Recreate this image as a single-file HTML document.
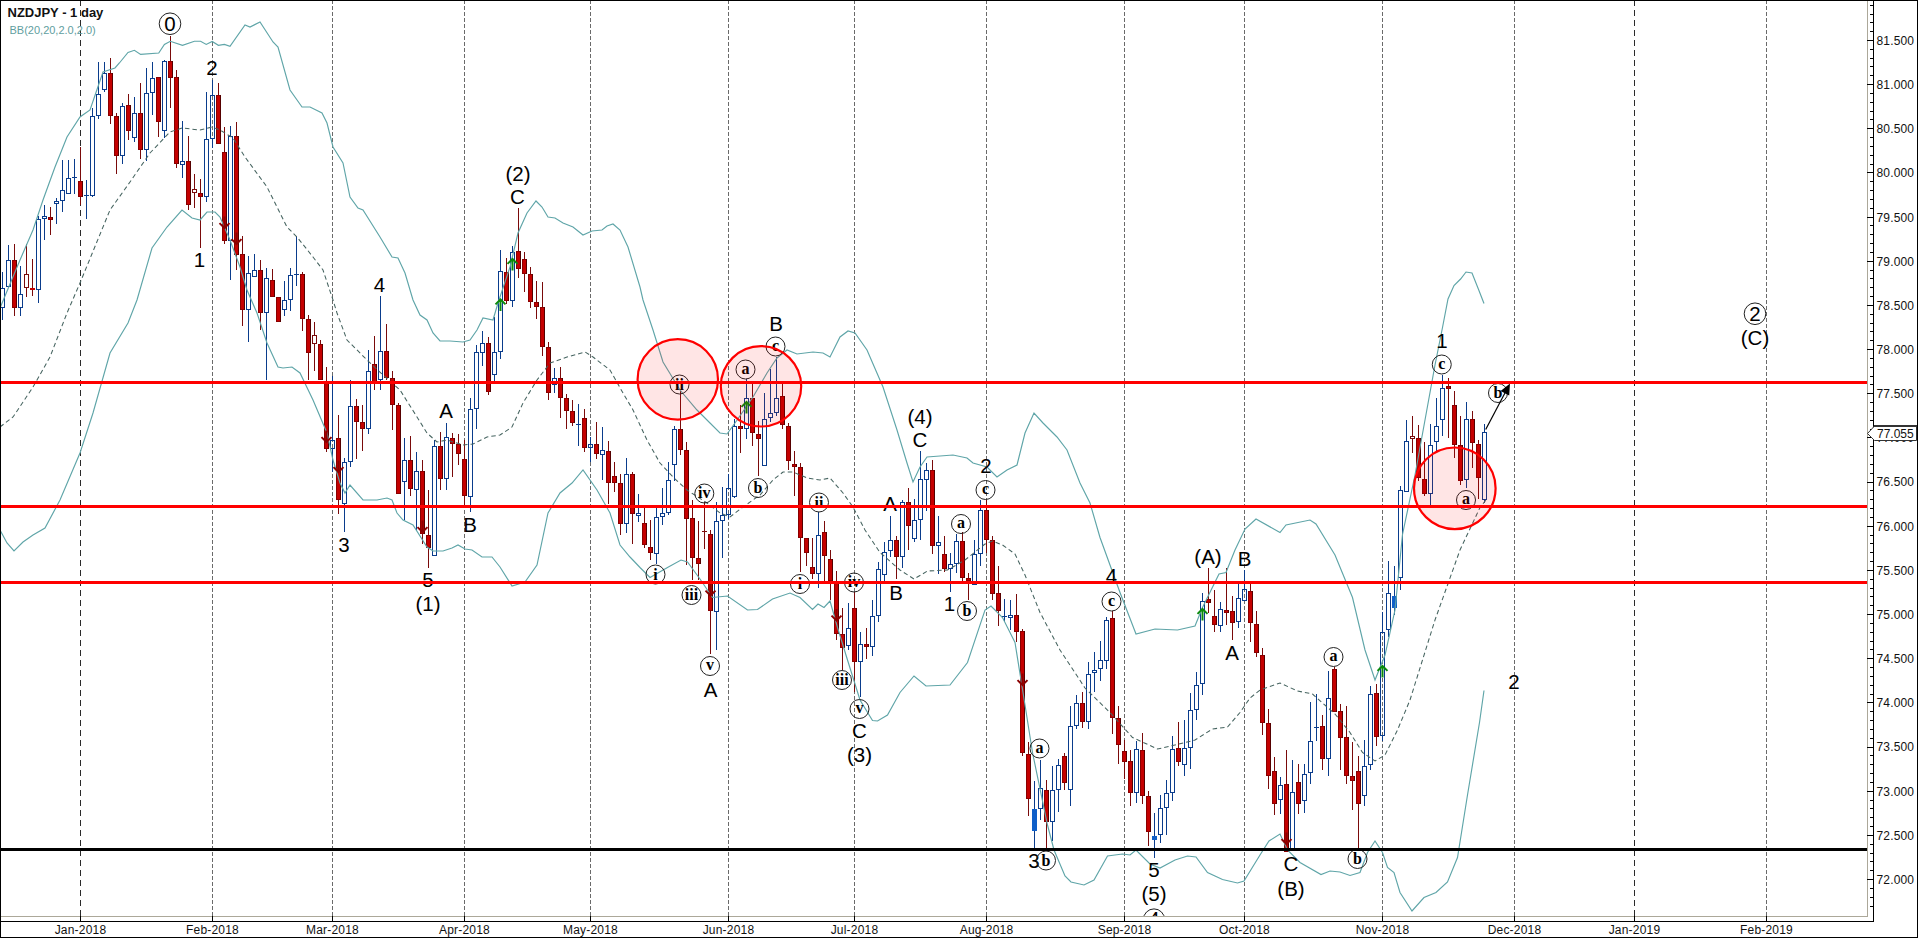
<!DOCTYPE html>
<html><head><meta charset="utf-8"><title>NZDJPY - 1 day</title>
<style>html,body{margin:0;padding:0;background:#fff;overflow:hidden}svg{display:block}</style></head>
<body><svg width="1918" height="938" viewBox="0 0 1918 938">
<rect width="1918" height="938" fill="#fff"/>
<g shape-rendering="crispEdges">
<line x1="80.5" y1="0" x2="80.5" y2="916" stroke="#2a2a2a" stroke-width="1" stroke-dasharray="6 4"/>
<line x1="212.5" y1="0" x2="212.5" y2="916" stroke="#6a6a6a" stroke-width="1" stroke-dasharray="4 2"/>
<line x1="332.5" y1="0" x2="332.5" y2="916" stroke="#6a6a6a" stroke-width="1" stroke-dasharray="4 2"/>
<line x1="464.5" y1="0" x2="464.5" y2="916" stroke="#6a6a6a" stroke-width="1" stroke-dasharray="4 2"/>
<line x1="590.5" y1="0" x2="590.5" y2="916" stroke="#6a6a6a" stroke-width="1" stroke-dasharray="4 2"/>
<line x1="728.5" y1="0" x2="728.5" y2="916" stroke="#6a6a6a" stroke-width="1" stroke-dasharray="4 2"/>
<line x1="854.5" y1="0" x2="854.5" y2="916" stroke="#6a6a6a" stroke-width="1" stroke-dasharray="4 2"/>
<line x1="986.5" y1="0" x2="986.5" y2="916" stroke="#6a6a6a" stroke-width="1" stroke-dasharray="4 2"/>
<line x1="1124.5" y1="0" x2="1124.5" y2="916" stroke="#6a6a6a" stroke-width="1" stroke-dasharray="4 2"/>
<line x1="1244.5" y1="0" x2="1244.5" y2="916" stroke="#6a6a6a" stroke-width="1" stroke-dasharray="4 2"/>
<line x1="1382.5" y1="0" x2="1382.5" y2="916" stroke="#6a6a6a" stroke-width="1" stroke-dasharray="4 2"/>
<line x1="1514.5" y1="0" x2="1514.5" y2="916" stroke="#6a6a6a" stroke-width="1" stroke-dasharray="4 2"/>
<line x1="1634.5" y1="0" x2="1634.5" y2="916" stroke="#2a2a2a" stroke-width="1" stroke-dasharray="6 4"/>
<line x1="1766.5" y1="0" x2="1766.5" y2="916" stroke="#6a6a6a" stroke-width="1" stroke-dasharray="4 2"/>
</g>
<g shape-rendering="crispEdges">
<rect x="2" y="272" width="1" height="16" fill="#0a3c8c"/>
<rect x="2" y="308" width="1" height="12" fill="#0a3c8c"/>
<path d="M0,288h5v20h-5z M1,289v18h3v-18z" fill-rule="evenodd" fill="#0a3c8c"/>
<rect x="8" y="245" width="1" height="15" fill="#0a3c8c"/>
<path d="M6,260h5v27h-5z M7,261v25h3v-25z" fill-rule="evenodd" fill="#0a3c8c"/>
<rect x="14" y="244" width="1" height="72" fill="#7a0a0a"/>
<rect x="12" y="260" width="5" height="48" fill="#8a0000"/><rect x="13" y="261" width="3" height="46" fill="#c40000"/><rect x="16" y="260" width="1" height="48" fill="#560000"/>
<rect x="20" y="266" width="1" height="28" fill="#0a3c8c"/>
<rect x="20" y="308" width="1" height="8" fill="#0a3c8c"/>
<path d="M18,294h5v14h-5z M19,295v12h3v-12z" fill-rule="evenodd" fill="#0a3c8c"/>
<rect x="26" y="244" width="1" height="30" fill="#7a0a0a"/>
<rect x="26" y="288" width="1" height="9" fill="#7a0a0a"/>
<path d="M24,274h5v14h-5z M25,275v12h3v-12z" fill-rule="evenodd" fill="#7a0a0a"/>
<rect x="32" y="259" width="1" height="37" fill="#7a0a0a"/>
<rect x="30" y="288" width="5" height="2" fill="#c40000"/>
<rect x="38" y="216" width="1" height="3" fill="#0a3c8c"/>
<rect x="38" y="290" width="1" height="13" fill="#0a3c8c"/>
<path d="M36,219h5v71h-5z M37,220v69h3v-69z" fill-rule="evenodd" fill="#0a3c8c"/>
<rect x="44" y="205" width="1" height="11" fill="#0a3c8c"/>
<rect x="44" y="219" width="1" height="21" fill="#0a3c8c"/>
<path d="M42,216h5v3h-5z M43,217v1h3v-1z" fill-rule="evenodd" fill="#0a3c8c"/>
<rect x="50" y="207" width="1" height="28" fill="#7a0a0a"/>
<rect x="48" y="217" width="5" height="3" fill="#8a0000"/><rect x="49" y="218" width="3" height="1" fill="#c40000"/><rect x="52" y="217" width="1" height="3" fill="#560000"/>
<rect x="56" y="198" width="1" height="3" fill="#0a3c8c"/>
<rect x="56" y="204" width="1" height="20" fill="#0a3c8c"/>
<path d="M54,201h5v3h-5z M55,202v1h3v-1z" fill-rule="evenodd" fill="#0a3c8c"/>
<rect x="62" y="160" width="1" height="30" fill="#0a3c8c"/>
<rect x="62" y="201" width="1" height="11" fill="#0a3c8c"/>
<path d="M60,190h5v11h-5z M61,191v9h3v-9z" fill-rule="evenodd" fill="#0a3c8c"/>
<rect x="68" y="160" width="1" height="18" fill="#0a3c8c"/>
<path d="M66,178h5v16h-5z M67,179v14h3v-14z" fill-rule="evenodd" fill="#0a3c8c"/>
<rect x="74" y="159" width="1" height="35" fill="#0a3c8c"/>
<rect x="72" y="177" width="5" height="1" fill="#0a3c8c"/>
<rect x="80" y="147" width="1" height="58" fill="#7a0a0a"/>
<rect x="78" y="181" width="5" height="16" fill="#8a0000"/><rect x="79" y="182" width="3" height="14" fill="#c40000"/><rect x="82" y="181" width="1" height="16" fill="#560000"/>
<rect x="86" y="180" width="1" height="39" fill="#0a3c8c"/>
<rect x="84" y="195" width="5" height="1" fill="#0a3c8c"/>
<rect x="92" y="108" width="1" height="8" fill="#0a3c8c"/>
<rect x="92" y="196" width="1" height="1" fill="#0a3c8c"/>
<path d="M90,116h5v80h-5z M91,117v78h3v-78z" fill-rule="evenodd" fill="#0a3c8c"/>
<rect x="98" y="62" width="1" height="32" fill="#0a3c8c"/>
<rect x="98" y="116" width="1" height="3" fill="#0a3c8c"/>
<path d="M96,94h5v22h-5z M97,95v20h3v-20z" fill-rule="evenodd" fill="#0a3c8c"/>
<rect x="104" y="62" width="1" height="11" fill="#0a3c8c"/>
<rect x="104" y="90" width="1" height="2" fill="#0a3c8c"/>
<path d="M102,73h5v17h-5z M103,74v15h3v-15z" fill-rule="evenodd" fill="#0a3c8c"/>
<rect x="110" y="58" width="1" height="66" fill="#7a0a0a"/>
<rect x="108" y="73" width="5" height="43" fill="#8a0000"/><rect x="109" y="74" width="3" height="41" fill="#c40000"/><rect x="112" y="73" width="1" height="43" fill="#560000"/>
<rect x="116" y="113" width="1" height="61" fill="#7a0a0a"/>
<rect x="114" y="116" width="5" height="40" fill="#8a0000"/><rect x="115" y="117" width="3" height="38" fill="#c40000"/><rect x="118" y="116" width="1" height="40" fill="#560000"/>
<rect x="122" y="103" width="1" height="3" fill="#0a3c8c"/>
<rect x="122" y="156" width="1" height="8" fill="#0a3c8c"/>
<path d="M120,106h5v50h-5z M121,107v48h3v-48z" fill-rule="evenodd" fill="#0a3c8c"/>
<rect x="128" y="94" width="1" height="46" fill="#7a0a0a"/>
<rect x="126" y="105" width="5" height="26" fill="#8a0000"/><rect x="127" y="106" width="3" height="24" fill="#c40000"/><rect x="130" y="105" width="1" height="26" fill="#560000"/>
<rect x="134" y="97" width="1" height="16" fill="#0a3c8c"/>
<rect x="134" y="138" width="1" height="4" fill="#0a3c8c"/>
<path d="M132,113h5v25h-5z M133,114v23h3v-23z" fill-rule="evenodd" fill="#0a3c8c"/>
<rect x="140" y="83" width="1" height="76" fill="#7a0a0a"/>
<rect x="138" y="113" width="5" height="37" fill="#8a0000"/><rect x="139" y="114" width="3" height="35" fill="#c40000"/><rect x="142" y="113" width="1" height="37" fill="#560000"/>
<rect x="146" y="68" width="1" height="25" fill="#0a3c8c"/>
<rect x="146" y="150" width="1" height="11" fill="#0a3c8c"/>
<path d="M144,93h5v57h-5z M145,94v55h3v-55z" fill-rule="evenodd" fill="#0a3c8c"/>
<rect x="152" y="62" width="1" height="16" fill="#0a3c8c"/>
<rect x="152" y="93" width="1" height="22" fill="#0a3c8c"/>
<path d="M150,78h5v15h-5z M151,79v13h3v-13z" fill-rule="evenodd" fill="#0a3c8c"/>
<rect x="158" y="77" width="1" height="60" fill="#7a0a0a"/>
<rect x="156" y="77" width="5" height="45" fill="#8a0000"/><rect x="157" y="78" width="3" height="43" fill="#c40000"/><rect x="160" y="77" width="1" height="45" fill="#560000"/>
<rect x="164" y="60" width="1" height="1" fill="#0a3c8c"/>
<rect x="164" y="131" width="1" height="7" fill="#0a3c8c"/>
<path d="M162,61h5v70h-5z M163,62v68h3v-68z" fill-rule="evenodd" fill="#0a3c8c"/>
<rect x="170" y="36" width="1" height="72" fill="#7a0a0a"/>
<rect x="168" y="61" width="5" height="17" fill="#8a0000"/><rect x="169" y="62" width="3" height="15" fill="#c40000"/><rect x="172" y="61" width="1" height="17" fill="#560000"/>
<rect x="176" y="70" width="1" height="98" fill="#7a0a0a"/>
<rect x="174" y="77" width="5" height="87" fill="#8a0000"/><rect x="175" y="78" width="3" height="85" fill="#c40000"/><rect x="178" y="77" width="1" height="87" fill="#560000"/>
<rect x="182" y="121" width="1" height="40" fill="#0a3c8c"/>
<rect x="182" y="165" width="1" height="13" fill="#0a3c8c"/>
<path d="M180,161h5v4h-5z M181,162v2h3v-2z" fill-rule="evenodd" fill="#0a3c8c"/>
<rect x="188" y="136" width="1" height="74" fill="#7a0a0a"/>
<rect x="186" y="161" width="5" height="44" fill="#8a0000"/><rect x="187" y="162" width="3" height="42" fill="#c40000"/><rect x="190" y="161" width="1" height="44" fill="#560000"/>
<rect x="194" y="174" width="1" height="15" fill="#7a0a0a"/>
<rect x="194" y="193" width="1" height="15" fill="#7a0a0a"/>
<path d="M192,189h5v4h-5z M193,190v2h3v-2z" fill-rule="evenodd" fill="#7a0a0a"/>
<rect x="200" y="179" width="1" height="69" fill="#7a0a0a"/>
<rect x="198" y="193" width="5" height="4" fill="#8a0000"/><rect x="199" y="194" width="3" height="2" fill="#c40000"/><rect x="202" y="193" width="1" height="4" fill="#560000"/>
<rect x="206" y="92" width="1" height="47" fill="#0a3c8c"/>
<rect x="206" y="197" width="1" height="5" fill="#0a3c8c"/>
<path d="M204,139h5v58h-5z M205,140v56h3v-56z" fill-rule="evenodd" fill="#0a3c8c"/>
<rect x="212" y="80" width="1" height="15" fill="#0a3c8c"/>
<rect x="212" y="139" width="1" height="9" fill="#0a3c8c"/>
<path d="M210,95h5v44h-5z M211,96v42h3v-42z" fill-rule="evenodd" fill="#0a3c8c"/>
<rect x="218" y="83" width="1" height="61" fill="#7a0a0a"/>
<rect x="216" y="95" width="5" height="49" fill="#8a0000"/><rect x="217" y="96" width="3" height="47" fill="#c40000"/><rect x="220" y="95" width="1" height="49" fill="#560000"/>
<rect x="224" y="127" width="1" height="117" fill="#7a0a0a"/>
<rect x="222" y="152" width="5" height="89" fill="#8a0000"/><rect x="223" y="153" width="3" height="87" fill="#c40000"/><rect x="226" y="152" width="1" height="89" fill="#560000"/>
<rect x="230" y="126" width="1" height="10" fill="#0a3c8c"/>
<rect x="230" y="241" width="1" height="39" fill="#0a3c8c"/>
<path d="M228,136h5v105h-5z M229,137v103h3v-103z" fill-rule="evenodd" fill="#0a3c8c"/>
<rect x="236" y="122" width="1" height="148" fill="#7a0a0a"/>
<rect x="234" y="136" width="5" height="119" fill="#8a0000"/><rect x="235" y="137" width="3" height="117" fill="#c40000"/><rect x="238" y="136" width="1" height="119" fill="#560000"/>
<rect x="242" y="236" width="1" height="90" fill="#7a0a0a"/>
<rect x="240" y="254" width="5" height="56" fill="#8a0000"/><rect x="241" y="255" width="3" height="54" fill="#c40000"/><rect x="244" y="254" width="1" height="56" fill="#560000"/>
<rect x="248" y="256" width="1" height="17" fill="#0a3c8c"/>
<rect x="248" y="310" width="1" height="32" fill="#0a3c8c"/>
<path d="M246,273h5v37h-5z M247,274v35h3v-35z" fill-rule="evenodd" fill="#0a3c8c"/>
<rect x="254" y="254" width="1" height="16" fill="#0a3c8c"/>
<path d="M252,270h5v7h-5z M253,271v5h3v-5z" fill-rule="evenodd" fill="#0a3c8c"/>
<rect x="260" y="260" width="1" height="70" fill="#7a0a0a"/>
<rect x="258" y="270" width="5" height="43" fill="#8a0000"/><rect x="259" y="271" width="3" height="41" fill="#c40000"/><rect x="262" y="270" width="1" height="43" fill="#560000"/>
<rect x="266" y="268" width="1" height="10" fill="#0a3c8c"/>
<rect x="266" y="313" width="1" height="67" fill="#0a3c8c"/>
<path d="M264,278h5v35h-5z M265,279v33h3v-33z" fill-rule="evenodd" fill="#0a3c8c"/>
<rect x="272" y="269" width="1" height="28" fill="#7a0a0a"/>
<rect x="270" y="280" width="5" height="17" fill="#8a0000"/><rect x="271" y="281" width="3" height="15" fill="#c40000"/><rect x="274" y="280" width="1" height="17" fill="#560000"/>
<rect x="278" y="297" width="1" height="25" fill="#7a0a0a"/>
<rect x="276" y="297" width="5" height="25" fill="#8a0000"/><rect x="277" y="298" width="3" height="23" fill="#c40000"/><rect x="280" y="297" width="1" height="25" fill="#560000"/>
<rect x="284" y="281" width="1" height="19" fill="#0a3c8c"/>
<rect x="284" y="310" width="1" height="6" fill="#0a3c8c"/>
<path d="M282,300h5v10h-5z M283,301v8h3v-8z" fill-rule="evenodd" fill="#0a3c8c"/>
<rect x="290" y="268" width="1" height="7" fill="#0a3c8c"/>
<rect x="290" y="300" width="1" height="11" fill="#0a3c8c"/>
<path d="M288,275h5v25h-5z M289,276v23h3v-23z" fill-rule="evenodd" fill="#0a3c8c"/>
<rect x="296" y="236" width="1" height="50" fill="#0a3c8c"/>
<rect x="294" y="274" width="5" height="1" fill="#0a3c8c"/>
<rect x="302" y="272" width="1" height="59" fill="#7a0a0a"/>
<rect x="300" y="274" width="5" height="45" fill="#8a0000"/><rect x="301" y="275" width="3" height="43" fill="#c40000"/><rect x="304" y="274" width="1" height="45" fill="#560000"/>
<rect x="308" y="315" width="1" height="65" fill="#7a0a0a"/>
<rect x="306" y="319" width="5" height="34" fill="#8a0000"/><rect x="307" y="320" width="3" height="32" fill="#c40000"/><rect x="310" y="319" width="1" height="34" fill="#560000"/>
<rect x="314" y="322" width="1" height="13" fill="#7a0a0a"/>
<rect x="314" y="344" width="1" height="27" fill="#7a0a0a"/>
<path d="M312,335h5v9h-5z M313,336v7h3v-7z" fill-rule="evenodd" fill="#7a0a0a"/>
<rect x="320" y="340" width="1" height="40" fill="#7a0a0a"/>
<rect x="318" y="344" width="5" height="36" fill="#8a0000"/><rect x="319" y="345" width="3" height="34" fill="#c40000"/><rect x="322" y="344" width="1" height="36" fill="#560000"/>
<rect x="326" y="367" width="1" height="85" fill="#7a0a0a"/>
<rect x="324" y="382" width="5" height="67" fill="#8a0000"/><rect x="325" y="383" width="3" height="65" fill="#c40000"/><rect x="328" y="382" width="1" height="67" fill="#560000"/>
<rect x="332" y="376" width="1" height="64" fill="#0a3c8c"/>
<rect x="332" y="449" width="1" height="23" fill="#0a3c8c"/>
<path d="M330,440h5v9h-5z M331,441v7h3v-7z" fill-rule="evenodd" fill="#0a3c8c"/>
<rect x="338" y="415" width="1" height="99" fill="#7a0a0a"/>
<rect x="336" y="438" width="5" height="62" fill="#8a0000"/><rect x="337" y="439" width="3" height="60" fill="#c40000"/><rect x="340" y="438" width="1" height="62" fill="#560000"/>
<rect x="344" y="458" width="1" height="4" fill="#0a3c8c"/>
<rect x="344" y="504" width="1" height="28" fill="#0a3c8c"/>
<path d="M342,462h5v42h-5z M343,463v40h3v-40z" fill-rule="evenodd" fill="#0a3c8c"/>
<rect x="350" y="380" width="1" height="26" fill="#0a3c8c"/>
<rect x="350" y="462" width="1" height="5" fill="#0a3c8c"/>
<path d="M348,406h5v56h-5z M349,407v54h3v-54z" fill-rule="evenodd" fill="#0a3c8c"/>
<rect x="356" y="399" width="1" height="60" fill="#7a0a0a"/>
<rect x="354" y="406" width="5" height="16" fill="#8a0000"/><rect x="355" y="407" width="3" height="14" fill="#c40000"/><rect x="358" y="406" width="1" height="16" fill="#560000"/>
<rect x="362" y="405" width="1" height="46" fill="#7a0a0a"/>
<rect x="360" y="422" width="5" height="7" fill="#8a0000"/><rect x="361" y="423" width="3" height="5" fill="#c40000"/><rect x="364" y="422" width="1" height="7" fill="#560000"/>
<rect x="368" y="350" width="1" height="21" fill="#0a3c8c"/>
<rect x="368" y="429" width="1" height="5" fill="#0a3c8c"/>
<path d="M366,371h5v58h-5z M367,372v56h3v-56z" fill-rule="evenodd" fill="#0a3c8c"/>
<rect x="374" y="336" width="1" height="54" fill="#7a0a0a"/>
<rect x="372" y="364" width="5" height="18" fill="#8a0000"/><rect x="373" y="365" width="3" height="16" fill="#c40000"/><rect x="376" y="364" width="1" height="18" fill="#560000"/>
<rect x="380" y="296" width="1" height="55" fill="#0a3c8c"/>
<rect x="380" y="380" width="1" height="10" fill="#0a3c8c"/>
<path d="M378,351h5v29h-5z M379,352v27h3v-27z" fill-rule="evenodd" fill="#0a3c8c"/>
<rect x="386" y="324" width="1" height="56" fill="#7a0a0a"/>
<rect x="384" y="351" width="5" height="27" fill="#8a0000"/><rect x="385" y="352" width="3" height="25" fill="#c40000"/><rect x="388" y="351" width="1" height="27" fill="#560000"/>
<rect x="392" y="371" width="1" height="59" fill="#7a0a0a"/>
<rect x="390" y="378" width="5" height="27" fill="#8a0000"/><rect x="391" y="379" width="3" height="25" fill="#c40000"/><rect x="394" y="378" width="1" height="27" fill="#560000"/>
<rect x="398" y="403" width="1" height="91" fill="#7a0a0a"/>
<rect x="396" y="405" width="5" height="89" fill="#8a0000"/><rect x="397" y="406" width="3" height="87" fill="#c40000"/><rect x="400" y="405" width="1" height="89" fill="#560000"/>
<rect x="404" y="438" width="1" height="22" fill="#0a3c8c"/>
<rect x="404" y="482" width="1" height="38" fill="#0a3c8c"/>
<path d="M402,460h5v22h-5z M403,461v20h3v-20z" fill-rule="evenodd" fill="#0a3c8c"/>
<rect x="410" y="436" width="1" height="60" fill="#7a0a0a"/>
<rect x="408" y="460" width="5" height="29" fill="#8a0000"/><rect x="409" y="461" width="3" height="27" fill="#c40000"/><rect x="412" y="460" width="1" height="29" fill="#560000"/>
<rect x="416" y="452" width="1" height="19" fill="#0a3c8c"/>
<rect x="416" y="490" width="1" height="40" fill="#0a3c8c"/>
<path d="M414,471h5v19h-5z M415,472v17h3v-17z" fill-rule="evenodd" fill="#0a3c8c"/>
<rect x="422" y="460" width="1" height="84" fill="#7a0a0a"/>
<rect x="420" y="471" width="5" height="63" fill="#8a0000"/><rect x="421" y="472" width="3" height="61" fill="#c40000"/><rect x="424" y="471" width="1" height="63" fill="#560000"/>
<rect x="428" y="490" width="1" height="78" fill="#7a0a0a"/>
<rect x="426" y="535" width="5" height="13" fill="#8a0000"/><rect x="427" y="536" width="3" height="11" fill="#c40000"/><rect x="430" y="535" width="1" height="13" fill="#560000"/>
<rect x="434" y="440" width="1" height="6" fill="#0a3c8c"/>
<path d="M432,446h5v110h-5z M433,447v108h3v-108z" fill-rule="evenodd" fill="#0a3c8c"/>
<rect x="440" y="432" width="1" height="58" fill="#7a0a0a"/>
<rect x="438" y="446" width="5" height="33" fill="#8a0000"/><rect x="439" y="447" width="3" height="31" fill="#c40000"/><rect x="442" y="446" width="1" height="33" fill="#560000"/>
<rect x="446" y="423" width="1" height="14" fill="#0a3c8c"/>
<rect x="446" y="479" width="1" height="11" fill="#0a3c8c"/>
<path d="M444,437h5v42h-5z M445,438v40h3v-40z" fill-rule="evenodd" fill="#0a3c8c"/>
<rect x="452" y="433" width="1" height="44" fill="#7a0a0a"/>
<rect x="450" y="438" width="5" height="6" fill="#8a0000"/><rect x="451" y="439" width="3" height="4" fill="#c40000"/><rect x="454" y="438" width="1" height="6" fill="#560000"/>
<rect x="458" y="434" width="1" height="31" fill="#7a0a0a"/>
<rect x="456" y="444" width="5" height="10" fill="#8a0000"/><rect x="457" y="445" width="3" height="8" fill="#c40000"/><rect x="460" y="444" width="1" height="10" fill="#560000"/>
<rect x="464" y="440" width="1" height="65" fill="#7a0a0a"/>
<rect x="462" y="459" width="5" height="37" fill="#8a0000"/><rect x="463" y="460" width="3" height="35" fill="#c40000"/><rect x="466" y="459" width="1" height="37" fill="#560000"/>
<rect x="470" y="398" width="1" height="11" fill="#0a3c8c"/>
<rect x="470" y="497" width="1" height="15" fill="#0a3c8c"/>
<path d="M468,409h5v88h-5z M469,410v86h3v-86z" fill-rule="evenodd" fill="#0a3c8c"/>
<rect x="476" y="345" width="1" height="7" fill="#0a3c8c"/>
<rect x="476" y="409" width="1" height="20" fill="#0a3c8c"/>
<path d="M474,352h5v57h-5z M475,353v55h3v-55z" fill-rule="evenodd" fill="#0a3c8c"/>
<rect x="482" y="331" width="1" height="12" fill="#0a3c8c"/>
<rect x="482" y="353" width="1" height="13" fill="#0a3c8c"/>
<path d="M480,343h5v10h-5z M481,344v8h3v-8z" fill-rule="evenodd" fill="#0a3c8c"/>
<rect x="488" y="337" width="1" height="58" fill="#7a0a0a"/>
<rect x="486" y="343" width="5" height="49" fill="#8a0000"/><rect x="487" y="344" width="3" height="47" fill="#c40000"/><rect x="490" y="343" width="1" height="49" fill="#560000"/>
<rect x="494" y="317" width="1" height="35" fill="#0a3c8c"/>
<rect x="494" y="375" width="1" height="6" fill="#0a3c8c"/>
<path d="M492,352h5v23h-5z M493,353v21h3v-21z" fill-rule="evenodd" fill="#0a3c8c"/>
<rect x="500" y="250" width="1" height="21" fill="#0a3c8c"/>
<rect x="500" y="352" width="1" height="7" fill="#0a3c8c"/>
<path d="M498,271h5v81h-5z M499,272v79h3v-79z" fill-rule="evenodd" fill="#0a3c8c"/>
<rect x="506" y="258" width="1" height="46" fill="#7a0a0a"/>
<rect x="504" y="272" width="5" height="29" fill="#8a0000"/><rect x="505" y="273" width="3" height="27" fill="#c40000"/><rect x="508" y="272" width="1" height="29" fill="#560000"/>
<rect x="512" y="246" width="1" height="6" fill="#0a3c8c"/>
<rect x="512" y="301" width="1" height="6" fill="#0a3c8c"/>
<path d="M510,252h5v49h-5z M511,253v47h3v-47z" fill-rule="evenodd" fill="#0a3c8c"/>
<rect x="518" y="208" width="1" height="70" fill="#7a0a0a"/>
<rect x="516" y="251" width="5" height="18" fill="#8a0000"/><rect x="517" y="252" width="3" height="16" fill="#c40000"/><rect x="520" y="251" width="1" height="18" fill="#560000"/>
<rect x="524" y="252" width="1" height="40" fill="#7a0a0a"/>
<rect x="522" y="259" width="5" height="15" fill="#8a0000"/><rect x="523" y="260" width="3" height="13" fill="#c40000"/><rect x="526" y="259" width="1" height="15" fill="#560000"/>
<rect x="530" y="267" width="1" height="41" fill="#7a0a0a"/>
<rect x="528" y="274" width="5" height="28" fill="#8a0000"/><rect x="529" y="275" width="3" height="26" fill="#c40000"/><rect x="532" y="274" width="1" height="28" fill="#560000"/>
<rect x="536" y="281" width="1" height="38" fill="#7a0a0a"/>
<rect x="534" y="302" width="5" height="5" fill="#8a0000"/><rect x="535" y="303" width="3" height="3" fill="#c40000"/><rect x="538" y="302" width="1" height="5" fill="#560000"/>
<rect x="542" y="282" width="1" height="74" fill="#7a0a0a"/>
<rect x="540" y="307" width="5" height="40" fill="#8a0000"/><rect x="541" y="308" width="3" height="38" fill="#c40000"/><rect x="544" y="307" width="1" height="40" fill="#560000"/>
<rect x="548" y="342" width="1" height="58" fill="#7a0a0a"/>
<rect x="546" y="347" width="5" height="46" fill="#8a0000"/><rect x="547" y="348" width="3" height="44" fill="#c40000"/><rect x="550" y="347" width="1" height="46" fill="#560000"/>
<rect x="554" y="368" width="1" height="10" fill="#0a3c8c"/>
<rect x="554" y="385" width="1" height="8" fill="#0a3c8c"/>
<path d="M552,378h5v7h-5z M553,379v5h3v-5z" fill-rule="evenodd" fill="#0a3c8c"/>
<rect x="560" y="367" width="1" height="51" fill="#7a0a0a"/>
<rect x="558" y="378" width="5" height="20" fill="#8a0000"/><rect x="559" y="379" width="3" height="18" fill="#c40000"/><rect x="562" y="378" width="1" height="20" fill="#560000"/>
<rect x="566" y="394" width="1" height="35" fill="#7a0a0a"/>
<rect x="564" y="398" width="5" height="13" fill="#8a0000"/><rect x="565" y="399" width="3" height="11" fill="#c40000"/><rect x="568" y="398" width="1" height="13" fill="#560000"/>
<rect x="572" y="400" width="1" height="26" fill="#7a0a0a"/>
<rect x="570" y="411" width="5" height="12" fill="#8a0000"/><rect x="571" y="412" width="3" height="10" fill="#c40000"/><rect x="574" y="411" width="1" height="12" fill="#560000"/>
<rect x="578" y="404" width="1" height="42" fill="#0a3c8c"/>
<rect x="576" y="424" width="5" height="1" fill="#0a3c8c"/>
<rect x="584" y="409" width="1" height="43" fill="#7a0a0a"/>
<rect x="582" y="418" width="5" height="30" fill="#8a0000"/><rect x="583" y="419" width="3" height="28" fill="#c40000"/><rect x="586" y="418" width="1" height="30" fill="#560000"/>
<rect x="590" y="437" width="1" height="7" fill="#0a3c8c"/>
<rect x="590" y="448" width="1" height="14" fill="#0a3c8c"/>
<path d="M588,444h5v4h-5z M589,445v2h3v-2z" fill-rule="evenodd" fill="#0a3c8c"/>
<rect x="596" y="422" width="1" height="37" fill="#7a0a0a"/>
<rect x="594" y="444" width="5" height="10" fill="#8a0000"/><rect x="595" y="445" width="3" height="8" fill="#c40000"/><rect x="598" y="444" width="1" height="10" fill="#560000"/>
<rect x="602" y="427" width="1" height="23" fill="#0a3c8c"/>
<rect x="602" y="455" width="1" height="25" fill="#0a3c8c"/>
<path d="M600,450h5v5h-5z M601,451v3h3v-3z" fill-rule="evenodd" fill="#0a3c8c"/>
<rect x="608" y="441" width="1" height="63" fill="#7a0a0a"/>
<rect x="606" y="451" width="5" height="32" fill="#8a0000"/><rect x="607" y="452" width="3" height="30" fill="#c40000"/><rect x="610" y="451" width="1" height="32" fill="#560000"/>
<rect x="614" y="462" width="1" height="30" fill="#7a0a0a"/>
<rect x="612" y="476" width="5" height="7" fill="#8a0000"/><rect x="613" y="477" width="3" height="5" fill="#c40000"/><rect x="616" y="476" width="1" height="7" fill="#560000"/>
<rect x="620" y="474" width="1" height="61" fill="#7a0a0a"/>
<rect x="618" y="483" width="5" height="41" fill="#8a0000"/><rect x="619" y="484" width="3" height="39" fill="#c40000"/><rect x="622" y="483" width="1" height="41" fill="#560000"/>
<rect x="626" y="458" width="1" height="16" fill="#0a3c8c"/>
<rect x="626" y="524" width="1" height="9" fill="#0a3c8c"/>
<path d="M624,474h5v50h-5z M625,475v48h3v-48z" fill-rule="evenodd" fill="#0a3c8c"/>
<rect x="632" y="472" width="1" height="72" fill="#7a0a0a"/>
<rect x="630" y="474" width="5" height="40" fill="#8a0000"/><rect x="631" y="475" width="3" height="38" fill="#c40000"/><rect x="634" y="474" width="1" height="40" fill="#560000"/>
<rect x="638" y="494" width="1" height="19" fill="#0a3c8c"/>
<rect x="638" y="516" width="1" height="6" fill="#0a3c8c"/>
<path d="M636,513h5v3h-5z M637,514v1h3v-1z" fill-rule="evenodd" fill="#0a3c8c"/>
<rect x="644" y="508" width="1" height="40" fill="#7a0a0a"/>
<rect x="642" y="523" width="5" height="22" fill="#8a0000"/><rect x="643" y="524" width="3" height="20" fill="#c40000"/><rect x="646" y="523" width="1" height="22" fill="#560000"/>
<rect x="650" y="520" width="1" height="40" fill="#7a0a0a"/>
<rect x="648" y="547" width="5" height="6" fill="#8a0000"/><rect x="649" y="548" width="3" height="4" fill="#c40000"/><rect x="652" y="547" width="1" height="6" fill="#560000"/>
<rect x="656" y="508" width="1" height="9" fill="#0a3c8c"/>
<rect x="656" y="554" width="1" height="10" fill="#0a3c8c"/>
<path d="M654,517h5v37h-5z M655,518v35h3v-35z" fill-rule="evenodd" fill="#0a3c8c"/>
<rect x="662" y="488" width="1" height="25" fill="#0a3c8c"/>
<rect x="662" y="517" width="1" height="8" fill="#0a3c8c"/>
<path d="M660,513h5v4h-5z M661,514v2h3v-2z" fill-rule="evenodd" fill="#0a3c8c"/>
<rect x="668" y="462" width="1" height="18" fill="#0a3c8c"/>
<rect x="668" y="513" width="1" height="2" fill="#0a3c8c"/>
<path d="M666,480h5v33h-5z M667,481v31h3v-31z" fill-rule="evenodd" fill="#0a3c8c"/>
<rect x="674" y="426" width="1" height="3" fill="#0a3c8c"/>
<rect x="674" y="465" width="1" height="16" fill="#0a3c8c"/>
<path d="M672,429h5v36h-5z M673,430v34h3v-34z" fill-rule="evenodd" fill="#0a3c8c"/>
<rect x="680" y="391" width="1" height="64" fill="#7a0a0a"/>
<rect x="678" y="429" width="5" height="21" fill="#8a0000"/><rect x="679" y="430" width="3" height="19" fill="#c40000"/><rect x="682" y="429" width="1" height="21" fill="#560000"/>
<rect x="686" y="442" width="1" height="123" fill="#7a0a0a"/>
<rect x="684" y="450" width="5" height="69" fill="#8a0000"/><rect x="685" y="451" width="3" height="67" fill="#c40000"/><rect x="688" y="450" width="1" height="69" fill="#560000"/>
<rect x="692" y="500" width="1" height="80" fill="#7a0a0a"/>
<rect x="690" y="518" width="5" height="40" fill="#8a0000"/><rect x="691" y="519" width="3" height="38" fill="#c40000"/><rect x="694" y="518" width="1" height="40" fill="#560000"/>
<rect x="698" y="521" width="1" height="59" fill="#7a0a0a"/>
<rect x="696" y="558" width="5" height="6" fill="#8a0000"/><rect x="697" y="559" width="3" height="4" fill="#c40000"/><rect x="700" y="558" width="1" height="6" fill="#560000"/>
<rect x="704" y="502" width="1" height="47" fill="#7a0a0a"/>
<rect x="702" y="531" width="5" height="1" fill="#7a0a0a"/>
<rect x="710" y="530" width="1" height="124" fill="#7a0a0a"/>
<rect x="708" y="534" width="5" height="77" fill="#8a0000"/><rect x="709" y="535" width="3" height="75" fill="#c40000"/><rect x="712" y="534" width="1" height="77" fill="#560000"/>
<rect x="716" y="502" width="1" height="19" fill="#0a3c8c"/>
<rect x="716" y="612" width="1" height="38" fill="#0a3c8c"/>
<path d="M714,521h5v91h-5z M715,522v89h3v-89z" fill-rule="evenodd" fill="#0a3c8c"/>
<rect x="722" y="487" width="1" height="28" fill="#0a3c8c"/>
<rect x="722" y="521" width="1" height="37" fill="#0a3c8c"/>
<path d="M720,515h5v6h-5z M721,516v4h3v-4z" fill-rule="evenodd" fill="#0a3c8c"/>
<rect x="728" y="474" width="1" height="14" fill="#0a3c8c"/>
<rect x="728" y="515" width="1" height="4" fill="#0a3c8c"/>
<path d="M726,488h5v27h-5z M727,489v25h3v-25z" fill-rule="evenodd" fill="#0a3c8c"/>
<rect x="734" y="419" width="1" height="7" fill="#0a3c8c"/>
<rect x="734" y="497" width="1" height="1" fill="#0a3c8c"/>
<path d="M732,426h5v71h-5z M733,427v69h3v-69z" fill-rule="evenodd" fill="#0a3c8c"/>
<rect x="740" y="405" width="1" height="48" fill="#7a0a0a"/>
<rect x="738" y="426" width="5" height="3" fill="#8a0000"/><rect x="739" y="427" width="3" height="1" fill="#c40000"/><rect x="742" y="426" width="1" height="3" fill="#560000"/>
<rect x="746" y="379" width="1" height="19" fill="#0a3c8c"/>
<rect x="746" y="429" width="1" height="10" fill="#0a3c8c"/>
<path d="M744,398h5v31h-5z M745,399v29h3v-29z" fill-rule="evenodd" fill="#0a3c8c"/>
<rect x="752" y="384" width="1" height="62" fill="#7a0a0a"/>
<rect x="750" y="398" width="5" height="35" fill="#8a0000"/><rect x="751" y="399" width="3" height="33" fill="#c40000"/><rect x="754" y="398" width="1" height="35" fill="#560000"/>
<rect x="758" y="421" width="1" height="55" fill="#7a0a0a"/>
<rect x="756" y="434" width="5" height="5" fill="#8a0000"/><rect x="757" y="435" width="3" height="3" fill="#c40000"/><rect x="760" y="434" width="1" height="5" fill="#560000"/>
<rect x="764" y="393" width="1" height="26" fill="#0a3c8c"/>
<path d="M762,419h5v47h-5z M763,420v45h3v-45z" fill-rule="evenodd" fill="#0a3c8c"/>
<rect x="770" y="369" width="1" height="44" fill="#0a3c8c"/>
<rect x="770" y="418" width="1" height="4" fill="#0a3c8c"/>
<path d="M768,413h5v5h-5z M769,414v3h3v-3z" fill-rule="evenodd" fill="#0a3c8c"/>
<rect x="776" y="357" width="1" height="41" fill="#0a3c8c"/>
<rect x="776" y="413" width="1" height="3" fill="#0a3c8c"/>
<path d="M774,398h5v15h-5z M775,399v13h3v-13z" fill-rule="evenodd" fill="#0a3c8c"/>
<rect x="782" y="384" width="1" height="45" fill="#7a0a0a"/>
<rect x="780" y="396" width="5" height="29" fill="#8a0000"/><rect x="781" y="397" width="3" height="27" fill="#c40000"/><rect x="784" y="396" width="1" height="29" fill="#560000"/>
<rect x="788" y="423" width="1" height="47" fill="#7a0a0a"/>
<rect x="786" y="426" width="5" height="35" fill="#8a0000"/><rect x="787" y="427" width="3" height="33" fill="#c40000"/><rect x="790" y="426" width="1" height="35" fill="#560000"/>
<rect x="794" y="451" width="1" height="45" fill="#7a0a0a"/>
<rect x="792" y="464" width="5" height="3" fill="#8a0000"/><rect x="793" y="465" width="3" height="1" fill="#c40000"/><rect x="796" y="464" width="1" height="3" fill="#560000"/>
<rect x="800" y="463" width="1" height="109" fill="#7a0a0a"/>
<rect x="798" y="467" width="5" height="71" fill="#8a0000"/><rect x="799" y="468" width="3" height="69" fill="#c40000"/><rect x="802" y="467" width="1" height="71" fill="#560000"/>
<rect x="806" y="538" width="1" height="28" fill="#7a0a0a"/>
<rect x="804" y="538" width="5" height="15" fill="#8a0000"/><rect x="805" y="539" width="3" height="13" fill="#c40000"/><rect x="808" y="538" width="1" height="15" fill="#560000"/>
<rect x="812" y="538" width="1" height="41" fill="#7a0a0a"/>
<rect x="810" y="567" width="5" height="7" fill="#8a0000"/><rect x="811" y="568" width="3" height="5" fill="#c40000"/><rect x="814" y="567" width="1" height="7" fill="#560000"/>
<rect x="818" y="512" width="1" height="23" fill="#0a3c8c"/>
<rect x="818" y="574" width="1" height="14" fill="#0a3c8c"/>
<path d="M816,535h5v39h-5z M817,536v37h3v-37z" fill-rule="evenodd" fill="#0a3c8c"/>
<rect x="824" y="521" width="1" height="61" fill="#7a0a0a"/>
<rect x="822" y="532" width="5" height="24" fill="#8a0000"/><rect x="823" y="533" width="3" height="22" fill="#c40000"/><rect x="826" y="532" width="1" height="24" fill="#560000"/>
<rect x="830" y="550" width="1" height="50" fill="#7a0a0a"/>
<rect x="828" y="559" width="5" height="22" fill="#8a0000"/><rect x="829" y="560" width="3" height="20" fill="#c40000"/><rect x="832" y="559" width="1" height="22" fill="#560000"/>
<rect x="836" y="571" width="1" height="69" fill="#7a0a0a"/>
<rect x="834" y="581" width="5" height="53" fill="#8a0000"/><rect x="835" y="582" width="3" height="51" fill="#c40000"/><rect x="838" y="581" width="1" height="53" fill="#560000"/>
<rect x="842" y="608" width="1" height="62" fill="#7a0a0a"/>
<rect x="840" y="634" width="5" height="14" fill="#8a0000"/><rect x="841" y="635" width="3" height="12" fill="#c40000"/><rect x="844" y="634" width="1" height="14" fill="#560000"/>
<rect x="848" y="603" width="1" height="25" fill="#0a3c8c"/>
<rect x="848" y="646" width="1" height="4" fill="#0a3c8c"/>
<path d="M846,628h5v18h-5z M847,629v16h3v-16z" fill-rule="evenodd" fill="#0a3c8c"/>
<rect x="854" y="592" width="1" height="100" fill="#7a0a0a"/>
<rect x="852" y="608" width="5" height="54" fill="#8a0000"/><rect x="853" y="609" width="3" height="52" fill="#c40000"/><rect x="856" y="608" width="1" height="54" fill="#560000"/>
<rect x="860" y="632" width="1" height="12" fill="#0a3c8c"/>
<rect x="860" y="662" width="1" height="35" fill="#0a3c8c"/>
<path d="M858,644h5v18h-5z M859,645v16h3v-16z" fill-rule="evenodd" fill="#0a3c8c"/>
<rect x="866" y="628" width="1" height="31" fill="#7a0a0a"/>
<rect x="864" y="644" width="5" height="3" fill="#8a0000"/><rect x="865" y="645" width="3" height="1" fill="#c40000"/><rect x="868" y="644" width="1" height="3" fill="#560000"/>
<rect x="872" y="600" width="1" height="16" fill="#0a3c8c"/>
<rect x="872" y="647" width="1" height="9" fill="#0a3c8c"/>
<path d="M870,616h5v31h-5z M871,617v29h3v-29z" fill-rule="evenodd" fill="#0a3c8c"/>
<rect x="878" y="562" width="1" height="7" fill="#0a3c8c"/>
<rect x="878" y="616" width="1" height="6" fill="#0a3c8c"/>
<path d="M876,569h5v47h-5z M877,570v45h3v-45z" fill-rule="evenodd" fill="#0a3c8c"/>
<rect x="884" y="542" width="1" height="10" fill="#0a3c8c"/>
<rect x="884" y="575" width="1" height="6" fill="#0a3c8c"/>
<path d="M882,552h5v23h-5z M883,553v21h3v-21z" fill-rule="evenodd" fill="#0a3c8c"/>
<rect x="890" y="516" width="1" height="24" fill="#0a3c8c"/>
<rect x="890" y="551" width="1" height="6" fill="#0a3c8c"/>
<path d="M888,540h5v11h-5z M889,541v9h3v-9z" fill-rule="evenodd" fill="#0a3c8c"/>
<rect x="896" y="536" width="1" height="43" fill="#7a0a0a"/>
<rect x="894" y="540" width="5" height="17" fill="#8a0000"/><rect x="895" y="541" width="3" height="15" fill="#c40000"/><rect x="898" y="540" width="1" height="17" fill="#560000"/>
<rect x="902" y="500" width="1" height="2" fill="#0a3c8c"/>
<rect x="902" y="557" width="1" height="11" fill="#0a3c8c"/>
<path d="M900,502h5v55h-5z M901,503v53h3v-53z" fill-rule="evenodd" fill="#0a3c8c"/>
<rect x="908" y="488" width="1" height="62" fill="#7a0a0a"/>
<rect x="906" y="502" width="5" height="24" fill="#8a0000"/><rect x="907" y="503" width="3" height="22" fill="#c40000"/><rect x="910" y="502" width="1" height="24" fill="#560000"/>
<rect x="914" y="499" width="1" height="21" fill="#0a3c8c"/>
<rect x="914" y="539" width="1" height="3" fill="#0a3c8c"/>
<path d="M912,520h5v19h-5z M913,521v17h3v-17z" fill-rule="evenodd" fill="#0a3c8c"/>
<rect x="920" y="451" width="1" height="28" fill="#0a3c8c"/>
<rect x="920" y="520" width="1" height="20" fill="#0a3c8c"/>
<path d="M918,479h5v41h-5z M919,480v39h3v-39z" fill-rule="evenodd" fill="#0a3c8c"/>
<rect x="926" y="463" width="1" height="7" fill="#0a3c8c"/>
<rect x="926" y="480" width="1" height="31" fill="#0a3c8c"/>
<path d="M924,470h5v10h-5z M925,471v8h3v-8z" fill-rule="evenodd" fill="#0a3c8c"/>
<rect x="932" y="460" width="1" height="94" fill="#7a0a0a"/>
<rect x="930" y="470" width="5" height="76" fill="#8a0000"/><rect x="931" y="471" width="3" height="74" fill="#c40000"/><rect x="934" y="470" width="1" height="76" fill="#560000"/>
<rect x="938" y="516" width="1" height="26" fill="#0a3c8c"/>
<rect x="938" y="546" width="1" height="28" fill="#0a3c8c"/>
<path d="M936,542h5v4h-5z M937,543v2h3v-2z" fill-rule="evenodd" fill="#0a3c8c"/>
<rect x="944" y="536" width="1" height="36" fill="#7a0a0a"/>
<rect x="942" y="554" width="5" height="15" fill="#8a0000"/><rect x="943" y="555" width="3" height="13" fill="#c40000"/><rect x="946" y="554" width="1" height="15" fill="#560000"/>
<rect x="950" y="553" width="1" height="11" fill="#0a3c8c"/>
<rect x="950" y="569" width="1" height="23" fill="#0a3c8c"/>
<path d="M948,564h5v5h-5z M949,565v3h3v-3z" fill-rule="evenodd" fill="#0a3c8c"/>
<rect x="956" y="534" width="1" height="7" fill="#0a3c8c"/>
<rect x="956" y="564" width="1" height="9" fill="#0a3c8c"/>
<path d="M954,541h5v23h-5z M955,542v21h3v-21z" fill-rule="evenodd" fill="#0a3c8c"/>
<rect x="962" y="532" width="1" height="49" fill="#7a0a0a"/>
<rect x="960" y="541" width="5" height="37" fill="#8a0000"/><rect x="961" y="542" width="3" height="35" fill="#c40000"/><rect x="964" y="541" width="1" height="37" fill="#560000"/>
<rect x="968" y="573" width="1" height="27" fill="#7a0a0a"/>
<rect x="966" y="578" width="5" height="3" fill="#8a0000"/><rect x="967" y="579" width="3" height="1" fill="#c40000"/><rect x="970" y="578" width="1" height="3" fill="#560000"/>
<rect x="974" y="540" width="1" height="14" fill="#0a3c8c"/>
<path d="M972,554h5v31h-5z M973,555v29h3v-29z" fill-rule="evenodd" fill="#0a3c8c"/>
<rect x="980" y="500" width="1" height="10" fill="#0a3c8c"/>
<rect x="980" y="554" width="1" height="12" fill="#0a3c8c"/>
<path d="M978,510h5v44h-5z M979,511v42h3v-42z" fill-rule="evenodd" fill="#0a3c8c"/>
<rect x="986" y="500" width="1" height="53" fill="#7a0a0a"/>
<rect x="984" y="510" width="5" height="30" fill="#8a0000"/><rect x="985" y="511" width="3" height="28" fill="#c40000"/><rect x="988" y="510" width="1" height="30" fill="#560000"/>
<rect x="992" y="536" width="1" height="64" fill="#7a0a0a"/>
<rect x="990" y="540" width="5" height="54" fill="#8a0000"/><rect x="991" y="541" width="3" height="52" fill="#c40000"/><rect x="994" y="540" width="1" height="54" fill="#560000"/>
<rect x="998" y="566" width="1" height="60" fill="#7a0a0a"/>
<rect x="996" y="593" width="5" height="18" fill="#8a0000"/><rect x="997" y="594" width="3" height="16" fill="#c40000"/><rect x="1000" y="593" width="1" height="18" fill="#560000"/>
<rect x="1004" y="599" width="1" height="23" fill="#0a3c8c"/>
<rect x="1002" y="616" width="5" height="1" fill="#0a3c8c"/>
<rect x="1010" y="600" width="1" height="15" fill="#0a3c8c"/>
<rect x="1010" y="618" width="1" height="12" fill="#0a3c8c"/>
<path d="M1008,615h5v3h-5z M1009,616v1h3v-1z" fill-rule="evenodd" fill="#0a3c8c"/>
<rect x="1016" y="594" width="1" height="48" fill="#7a0a0a"/>
<rect x="1014" y="615" width="5" height="17" fill="#8a0000"/><rect x="1015" y="616" width="3" height="15" fill="#c40000"/><rect x="1018" y="615" width="1" height="17" fill="#560000"/>
<rect x="1022" y="629" width="1" height="127" fill="#7a0a0a"/>
<rect x="1020" y="631" width="5" height="122" fill="#8a0000"/><rect x="1021" y="632" width="3" height="120" fill="#c40000"/><rect x="1024" y="631" width="1" height="122" fill="#560000"/>
<rect x="1028" y="742" width="1" height="74" fill="#7a0a0a"/>
<rect x="1026" y="754" width="5" height="45" fill="#8a0000"/><rect x="1027" y="755" width="3" height="43" fill="#c40000"/><rect x="1030" y="754" width="1" height="45" fill="#560000"/>
<rect x="1034" y="781" width="1" height="67" fill="#0a3c8c"/>
<rect x="1032" y="809" width="5" height="22" fill="#0f5fc8"/>
<rect x="1040" y="760" width="1" height="28" fill="#0a3c8c"/>
<rect x="1040" y="809" width="1" height="11" fill="#0a3c8c"/>
<path d="M1038,788h5v21h-5z M1039,789v19h3v-19z" fill-rule="evenodd" fill="#0a3c8c"/>
<rect x="1046" y="780" width="1" height="69" fill="#7a0a0a"/>
<rect x="1044" y="790" width="5" height="32" fill="#8a0000"/><rect x="1045" y="791" width="3" height="30" fill="#c40000"/><rect x="1048" y="790" width="1" height="32" fill="#560000"/>
<rect x="1052" y="766" width="1" height="24" fill="#0a3c8c"/>
<rect x="1052" y="822" width="1" height="19" fill="#0a3c8c"/>
<path d="M1050,790h5v32h-5z M1051,791v30h3v-30z" fill-rule="evenodd" fill="#0a3c8c"/>
<rect x="1058" y="759" width="1" height="6" fill="#0a3c8c"/>
<rect x="1058" y="790" width="1" height="22" fill="#0a3c8c"/>
<path d="M1056,765h5v25h-5z M1057,766v23h3v-23z" fill-rule="evenodd" fill="#0a3c8c"/>
<rect x="1064" y="753" width="1" height="37" fill="#7a0a0a"/>
<rect x="1062" y="756" width="5" height="27" fill="#8a0000"/><rect x="1063" y="757" width="3" height="25" fill="#c40000"/><rect x="1066" y="756" width="1" height="27" fill="#560000"/>
<rect x="1070" y="706" width="1" height="20" fill="#0a3c8c"/>
<rect x="1070" y="790" width="1" height="16" fill="#0a3c8c"/>
<path d="M1068,726h5v64h-5z M1069,727v62h3v-62z" fill-rule="evenodd" fill="#0a3c8c"/>
<rect x="1076" y="695" width="1" height="8" fill="#0a3c8c"/>
<rect x="1076" y="726" width="1" height="3" fill="#0a3c8c"/>
<path d="M1074,703h5v23h-5z M1075,704v21h3v-21z" fill-rule="evenodd" fill="#0a3c8c"/>
<rect x="1082" y="692" width="1" height="36" fill="#7a0a0a"/>
<rect x="1080" y="703" width="5" height="19" fill="#8a0000"/><rect x="1081" y="704" width="3" height="17" fill="#c40000"/><rect x="1084" y="703" width="1" height="19" fill="#560000"/>
<rect x="1088" y="662" width="1" height="12" fill="#0a3c8c"/>
<rect x="1088" y="722" width="1" height="7" fill="#0a3c8c"/>
<path d="M1086,674h5v48h-5z M1087,675v46h3v-46z" fill-rule="evenodd" fill="#0a3c8c"/>
<rect x="1094" y="652" width="1" height="18" fill="#0a3c8c"/>
<rect x="1094" y="673" width="1" height="19" fill="#0a3c8c"/>
<path d="M1092,670h5v3h-5z M1093,671v1h3v-1z" fill-rule="evenodd" fill="#0a3c8c"/>
<rect x="1100" y="641" width="1" height="19" fill="#0a3c8c"/>
<rect x="1100" y="669" width="1" height="12" fill="#0a3c8c"/>
<path d="M1098,660h5v9h-5z M1099,661v7h3v-7z" fill-rule="evenodd" fill="#0a3c8c"/>
<rect x="1106" y="617" width="1" height="3" fill="#0a3c8c"/>
<rect x="1106" y="661" width="1" height="8" fill="#0a3c8c"/>
<path d="M1104,620h5v41h-5z M1105,621v39h3v-39z" fill-rule="evenodd" fill="#0a3c8c"/>
<rect x="1112" y="611" width="1" height="123" fill="#7a0a0a"/>
<rect x="1110" y="618" width="5" height="100" fill="#8a0000"/><rect x="1111" y="619" width="3" height="98" fill="#c40000"/><rect x="1114" y="618" width="1" height="100" fill="#560000"/>
<rect x="1118" y="706" width="1" height="58" fill="#7a0a0a"/>
<rect x="1116" y="718" width="5" height="27" fill="#8a0000"/><rect x="1117" y="719" width="3" height="25" fill="#c40000"/><rect x="1120" y="718" width="1" height="27" fill="#560000"/>
<rect x="1124" y="740" width="1" height="39" fill="#7a0a0a"/>
<rect x="1122" y="751" width="5" height="11" fill="#8a0000"/><rect x="1123" y="752" width="3" height="9" fill="#c40000"/><rect x="1126" y="751" width="1" height="11" fill="#560000"/>
<rect x="1130" y="750" width="1" height="56" fill="#7a0a0a"/>
<rect x="1128" y="761" width="5" height="32" fill="#8a0000"/><rect x="1129" y="762" width="3" height="30" fill="#c40000"/><rect x="1132" y="761" width="1" height="32" fill="#560000"/>
<rect x="1136" y="741" width="1" height="8" fill="#0a3c8c"/>
<rect x="1136" y="793" width="1" height="10" fill="#0a3c8c"/>
<path d="M1134,749h5v44h-5z M1135,750v42h3v-42z" fill-rule="evenodd" fill="#0a3c8c"/>
<rect x="1142" y="733" width="1" height="71" fill="#7a0a0a"/>
<rect x="1140" y="750" width="5" height="46" fill="#8a0000"/><rect x="1141" y="751" width="3" height="44" fill="#c40000"/><rect x="1144" y="750" width="1" height="46" fill="#560000"/>
<rect x="1148" y="791" width="1" height="55" fill="#7a0a0a"/>
<rect x="1146" y="796" width="5" height="36" fill="#8a0000"/><rect x="1147" y="797" width="3" height="34" fill="#c40000"/><rect x="1150" y="796" width="1" height="36" fill="#560000"/>
<rect x="1154" y="813" width="1" height="45" fill="#0a3c8c"/>
<rect x="1152" y="836" width="5" height="4" fill="#0f5fc8"/>
<rect x="1160" y="795" width="1" height="13" fill="#0a3c8c"/>
<rect x="1160" y="835" width="1" height="8" fill="#0a3c8c"/>
<path d="M1158,808h5v27h-5z M1159,809v25h3v-25z" fill-rule="evenodd" fill="#0a3c8c"/>
<rect x="1166" y="780" width="1" height="13" fill="#0a3c8c"/>
<rect x="1166" y="808" width="1" height="27" fill="#0a3c8c"/>
<path d="M1164,793h5v15h-5z M1165,794v13h3v-13z" fill-rule="evenodd" fill="#0a3c8c"/>
<rect x="1172" y="736" width="1" height="13" fill="#0a3c8c"/>
<rect x="1172" y="793" width="1" height="8" fill="#0a3c8c"/>
<path d="M1170,749h5v44h-5z M1171,750v42h3v-42z" fill-rule="evenodd" fill="#0a3c8c"/>
<rect x="1178" y="722" width="1" height="44" fill="#7a0a0a"/>
<rect x="1176" y="748" width="5" height="14" fill="#8a0000"/><rect x="1177" y="749" width="3" height="12" fill="#c40000"/><rect x="1180" y="748" width="1" height="14" fill="#560000"/>
<rect x="1184" y="720" width="1" height="28" fill="#0a3c8c"/>
<rect x="1184" y="765" width="1" height="11" fill="#0a3c8c"/>
<path d="M1182,748h5v17h-5z M1183,749v15h3v-15z" fill-rule="evenodd" fill="#0a3c8c"/>
<rect x="1190" y="693" width="1" height="17" fill="#0a3c8c"/>
<rect x="1190" y="748" width="1" height="21" fill="#0a3c8c"/>
<path d="M1188,710h5v38h-5z M1189,711v36h3v-36z" fill-rule="evenodd" fill="#0a3c8c"/>
<rect x="1196" y="672" width="1" height="13" fill="#0a3c8c"/>
<rect x="1196" y="710" width="1" height="10" fill="#0a3c8c"/>
<path d="M1194,685h5v25h-5z M1195,686v23h3v-23z" fill-rule="evenodd" fill="#0a3c8c"/>
<rect x="1202" y="593" width="1" height="8" fill="#0a3c8c"/>
<rect x="1202" y="684" width="1" height="11" fill="#0a3c8c"/>
<path d="M1200,601h5v83h-5z M1201,602v81h3v-81z" fill-rule="evenodd" fill="#0a3c8c"/>
<rect x="1208" y="568" width="1" height="45" fill="#7a0a0a"/>
<rect x="1206" y="599" width="5" height="4" fill="#8a0000"/><rect x="1207" y="600" width="3" height="2" fill="#c40000"/><rect x="1210" y="599" width="1" height="4" fill="#560000"/>
<rect x="1214" y="590" width="1" height="42" fill="#7a0a0a"/>
<rect x="1212" y="616" width="5" height="9" fill="#8a0000"/><rect x="1213" y="617" width="3" height="7" fill="#c40000"/><rect x="1216" y="616" width="1" height="9" fill="#560000"/>
<rect x="1220" y="602" width="1" height="7" fill="#0a3c8c"/>
<rect x="1220" y="626" width="1" height="6" fill="#0a3c8c"/>
<path d="M1218,609h5v17h-5z M1219,610v15h3v-15z" fill-rule="evenodd" fill="#0a3c8c"/>
<rect x="1226" y="568" width="1" height="57" fill="#7a0a0a"/>
<rect x="1224" y="610" width="5" height="3" fill="#8a0000"/><rect x="1225" y="611" width="3" height="1" fill="#c40000"/><rect x="1228" y="610" width="1" height="3" fill="#560000"/>
<rect x="1232" y="596" width="1" height="44" fill="#7a0a0a"/>
<rect x="1230" y="611" width="5" height="12" fill="#8a0000"/><rect x="1231" y="612" width="3" height="10" fill="#c40000"/><rect x="1234" y="611" width="1" height="12" fill="#560000"/>
<rect x="1238" y="584" width="1" height="14" fill="#0a3c8c"/>
<rect x="1238" y="622" width="1" height="6" fill="#0a3c8c"/>
<path d="M1236,598h5v24h-5z M1237,599v22h3v-22z" fill-rule="evenodd" fill="#0a3c8c"/>
<rect x="1244" y="570" width="1" height="19" fill="#0a3c8c"/>
<path d="M1242,589h5v12h-5z M1243,590v10h3v-10z" fill-rule="evenodd" fill="#0a3c8c"/>
<rect x="1250" y="584" width="1" height="58" fill="#7a0a0a"/>
<rect x="1248" y="591" width="5" height="32" fill="#8a0000"/><rect x="1249" y="592" width="3" height="30" fill="#c40000"/><rect x="1252" y="591" width="1" height="32" fill="#560000"/>
<rect x="1256" y="611" width="1" height="46" fill="#7a0a0a"/>
<rect x="1254" y="624" width="5" height="29" fill="#8a0000"/><rect x="1255" y="625" width="3" height="27" fill="#c40000"/><rect x="1258" y="624" width="1" height="29" fill="#560000"/>
<rect x="1262" y="648" width="1" height="87" fill="#7a0a0a"/>
<rect x="1260" y="655" width="5" height="68" fill="#8a0000"/><rect x="1261" y="656" width="3" height="66" fill="#c40000"/><rect x="1264" y="655" width="1" height="68" fill="#560000"/>
<rect x="1268" y="709" width="1" height="80" fill="#7a0a0a"/>
<rect x="1266" y="723" width="5" height="53" fill="#8a0000"/><rect x="1267" y="724" width="3" height="51" fill="#c40000"/><rect x="1270" y="723" width="1" height="53" fill="#560000"/>
<rect x="1274" y="757" width="1" height="58" fill="#7a0a0a"/>
<rect x="1272" y="771" width="5" height="33" fill="#8a0000"/><rect x="1273" y="772" width="3" height="31" fill="#c40000"/><rect x="1276" y="771" width="1" height="33" fill="#560000"/>
<rect x="1280" y="777" width="1" height="8" fill="#0a3c8c"/>
<rect x="1280" y="800" width="1" height="14" fill="#0a3c8c"/>
<path d="M1278,785h5v15h-5z M1279,786v13h3v-13z" fill-rule="evenodd" fill="#0a3c8c"/>
<rect x="1286" y="750" width="1" height="102" fill="#7a0a0a"/>
<rect x="1284" y="784" width="5" height="68" fill="#8a0000"/><rect x="1285" y="785" width="3" height="66" fill="#c40000"/><rect x="1288" y="784" width="1" height="68" fill="#560000"/>
<rect x="1292" y="760" width="1" height="32" fill="#0a3c8c"/>
<rect x="1292" y="849" width="1" height="1" fill="#0a3c8c"/>
<path d="M1290,792h5v57h-5z M1291,793v55h3v-55z" fill-rule="evenodd" fill="#0a3c8c"/>
<rect x="1298" y="764" width="1" height="50" fill="#7a0a0a"/>
<rect x="1296" y="782" width="5" height="22" fill="#8a0000"/><rect x="1297" y="783" width="3" height="20" fill="#c40000"/><rect x="1300" y="782" width="1" height="22" fill="#560000"/>
<rect x="1304" y="764" width="1" height="10" fill="#0a3c8c"/>
<rect x="1304" y="801" width="1" height="12" fill="#0a3c8c"/>
<path d="M1302,774h5v27h-5z M1303,775v25h3v-25z" fill-rule="evenodd" fill="#0a3c8c"/>
<rect x="1310" y="702" width="1" height="39" fill="#0a3c8c"/>
<rect x="1310" y="773" width="1" height="11" fill="#0a3c8c"/>
<path d="M1308,741h5v32h-5z M1309,742v30h3v-30z" fill-rule="evenodd" fill="#0a3c8c"/>
<rect x="1316" y="694" width="1" height="47" fill="#0a3c8c"/>
<rect x="1314" y="727" width="5" height="1" fill="#0a3c8c"/>
<rect x="1322" y="715" width="1" height="55" fill="#7a0a0a"/>
<rect x="1320" y="726" width="5" height="33" fill="#8a0000"/><rect x="1321" y="727" width="3" height="31" fill="#c40000"/><rect x="1324" y="726" width="1" height="33" fill="#560000"/>
<rect x="1328" y="671" width="1" height="27" fill="#0a3c8c"/>
<rect x="1328" y="759" width="1" height="17" fill="#0a3c8c"/>
<path d="M1326,698h5v61h-5z M1327,699v59h3v-59z" fill-rule="evenodd" fill="#0a3c8c"/>
<rect x="1334" y="667" width="1" height="45" fill="#7a0a0a"/>
<rect x="1332" y="669" width="5" height="43" fill="#8a0000"/><rect x="1333" y="670" width="3" height="41" fill="#c40000"/><rect x="1336" y="669" width="1" height="43" fill="#560000"/>
<rect x="1340" y="704" width="1" height="66" fill="#7a0a0a"/>
<rect x="1338" y="711" width="5" height="27" fill="#8a0000"/><rect x="1339" y="712" width="3" height="25" fill="#c40000"/><rect x="1342" y="711" width="1" height="27" fill="#560000"/>
<rect x="1346" y="706" width="1" height="78" fill="#7a0a0a"/>
<rect x="1344" y="737" width="5" height="39" fill="#8a0000"/><rect x="1345" y="738" width="3" height="37" fill="#c40000"/><rect x="1348" y="737" width="1" height="39" fill="#560000"/>
<rect x="1352" y="742" width="1" height="68" fill="#7a0a0a"/>
<rect x="1350" y="776" width="5" height="5" fill="#8a0000"/><rect x="1351" y="777" width="3" height="3" fill="#c40000"/><rect x="1354" y="776" width="1" height="5" fill="#560000"/>
<rect x="1358" y="756" width="1" height="92" fill="#7a0a0a"/>
<rect x="1356" y="771" width="5" height="33" fill="#8a0000"/><rect x="1357" y="772" width="3" height="31" fill="#c40000"/><rect x="1360" y="771" width="1" height="33" fill="#560000"/>
<rect x="1364" y="740" width="1" height="26" fill="#0a3c8c"/>
<rect x="1364" y="796" width="1" height="10" fill="#0a3c8c"/>
<path d="M1362,766h5v30h-5z M1363,767v28h3v-28z" fill-rule="evenodd" fill="#0a3c8c"/>
<rect x="1370" y="686" width="1" height="8" fill="#0a3c8c"/>
<rect x="1370" y="765" width="1" height="5" fill="#0a3c8c"/>
<path d="M1368,694h5v71h-5z M1369,695v69h3v-69z" fill-rule="evenodd" fill="#0a3c8c"/>
<rect x="1376" y="684" width="1" height="62" fill="#7a0a0a"/>
<rect x="1374" y="693" width="5" height="44" fill="#8a0000"/><rect x="1375" y="694" width="3" height="42" fill="#c40000"/><rect x="1378" y="693" width="1" height="44" fill="#560000"/>
<rect x="1382" y="612" width="1" height="20" fill="#0a3c8c"/>
<rect x="1382" y="736" width="1" height="5" fill="#0a3c8c"/>
<path d="M1380,632h5v104h-5z M1381,633v102h3v-102z" fill-rule="evenodd" fill="#0a3c8c"/>
<rect x="1388" y="561" width="1" height="32" fill="#0a3c8c"/>
<rect x="1388" y="630" width="1" height="7" fill="#0a3c8c"/>
<path d="M1386,593h5v37h-5z M1387,594v35h3v-35z" fill-rule="evenodd" fill="#0a3c8c"/>
<rect x="1394" y="566" width="1" height="49" fill="#0a3c8c"/>
<rect x="1392" y="596" width="5" height="12" fill="#0f5fc8"/>
<rect x="1400" y="486" width="1" height="4" fill="#0a3c8c"/>
<rect x="1400" y="578" width="1" height="12" fill="#0a3c8c"/>
<path d="M1398,490h5v88h-5z M1399,491v86h3v-86z" fill-rule="evenodd" fill="#0a3c8c"/>
<rect x="1406" y="420" width="1" height="21" fill="#0a3c8c"/>
<path d="M1404,441h5v51h-5z M1405,442v49h3v-49z" fill-rule="evenodd" fill="#0a3c8c"/>
<rect x="1412" y="416" width="1" height="20" fill="#7a0a0a"/>
<rect x="1412" y="439" width="1" height="14" fill="#7a0a0a"/>
<path d="M1410,436h5v3h-5z M1411,437v1h3v-1z" fill-rule="evenodd" fill="#7a0a0a"/>
<rect x="1418" y="425" width="1" height="56" fill="#7a0a0a"/>
<rect x="1416" y="438" width="5" height="40" fill="#8a0000"/><rect x="1417" y="439" width="3" height="38" fill="#c40000"/><rect x="1420" y="438" width="1" height="40" fill="#560000"/>
<rect x="1424" y="442" width="1" height="54" fill="#7a0a0a"/>
<rect x="1422" y="479" width="5" height="15" fill="#8a0000"/><rect x="1423" y="480" width="3" height="13" fill="#c40000"/><rect x="1426" y="479" width="1" height="15" fill="#560000"/>
<rect x="1430" y="424" width="1" height="21" fill="#0a3c8c"/>
<rect x="1430" y="494" width="1" height="14" fill="#0a3c8c"/>
<path d="M1428,445h5v49h-5z M1429,446v47h3v-47z" fill-rule="evenodd" fill="#0a3c8c"/>
<rect x="1436" y="398" width="1" height="28" fill="#0a3c8c"/>
<rect x="1436" y="442" width="1" height="11" fill="#0a3c8c"/>
<path d="M1434,426h5v16h-5z M1435,427v14h3v-14z" fill-rule="evenodd" fill="#0a3c8c"/>
<rect x="1442" y="375" width="1" height="13" fill="#0a3c8c"/>
<rect x="1442" y="420" width="1" height="16" fill="#0a3c8c"/>
<path d="M1440,388h5v32h-5z M1441,389v30h3v-30z" fill-rule="evenodd" fill="#0a3c8c"/>
<rect x="1448" y="378" width="1" height="60" fill="#7a0a0a"/>
<rect x="1446" y="386" width="5" height="3" fill="#8a0000"/><rect x="1447" y="387" width="3" height="1" fill="#c40000"/><rect x="1450" y="386" width="1" height="3" fill="#560000"/>
<rect x="1454" y="391" width="1" height="67" fill="#7a0a0a"/>
<rect x="1452" y="405" width="5" height="40" fill="#8a0000"/><rect x="1453" y="406" width="3" height="38" fill="#c40000"/><rect x="1456" y="405" width="1" height="40" fill="#560000"/>
<rect x="1460" y="416" width="1" height="69" fill="#7a0a0a"/>
<rect x="1458" y="445" width="5" height="36" fill="#8a0000"/><rect x="1459" y="446" width="3" height="34" fill="#c40000"/><rect x="1462" y="445" width="1" height="36" fill="#560000"/>
<rect x="1466" y="402" width="1" height="17" fill="#0a3c8c"/>
<rect x="1466" y="480" width="1" height="8" fill="#0a3c8c"/>
<path d="M1464,419h5v61h-5z M1465,420v59h3v-59z" fill-rule="evenodd" fill="#0a3c8c"/>
<rect x="1472" y="411" width="1" height="57" fill="#7a0a0a"/>
<rect x="1470" y="419" width="5" height="24" fill="#8a0000"/><rect x="1471" y="420" width="3" height="22" fill="#c40000"/><rect x="1474" y="419" width="1" height="24" fill="#560000"/>
<rect x="1478" y="440" width="1" height="59" fill="#7a0a0a"/>
<rect x="1476" y="444" width="5" height="34" fill="#8a0000"/><rect x="1477" y="445" width="3" height="32" fill="#c40000"/><rect x="1480" y="444" width="1" height="34" fill="#560000"/>
<rect x="1484" y="424" width="1" height="8" fill="#0a3c8c"/>
<rect x="1484" y="500" width="1" height="3" fill="#0a3c8c"/>
<path d="M1482,432h5v68h-5z M1483,433v66h3v-66z" fill-rule="evenodd" fill="#0a3c8c"/>
</g>
<polyline points="0,308 20,260 33,230 43,200 55,167 67,137 80,117 90,110 103,72 115,68 119.4,63 128,52.5 134.4,50.3 140.6,54.4 158.75,53 164.4,44.4 170.3,41.25 182.5,45.3 194.4,41.25 200.6,41.25 206.25,44.4 212.2,41.4 218.4,45.3 224.4,44.4 230,46.25 245,25 250,27 260,22 273,42 278,47 290,90 302,107 310,107 322,113 327,123 333,147 343,163 350,197 358,208 363,210 380,237 392,257 398,258 405,273 413,300 420,315 427,320 433,333 440,341 450,341 463,342 470,340 477,330 483,318 493,320 498,303 510,267 518,233 527,213 536,201 542,207 548,217 555,218 563,223 573,227 583,235 592,231 602,230 607,226 613,224 620,230 628,247 640,287 643,300 653,330 663,362 680,390 697,410 710,423 720,433 727,434 735,423 753,397 767,373 777,358 787,350 797,354 813,352 823,353 830,357 840,337 848,331 855,333 867,350 883,387 897,430 907,463 913,482 920,467 927,457 940,456 953,455 967,458 973,463 987,467 997,477 1007,470 1017,465 1025,433 1034,413 1043,423 1057,437 1067,450 1080,483 1090,503 1100,537.5 1120,592.5 1136,634 1155,629 1177.5,630 1195,626 1202.5,607.5 1219,574 1226,572.5 1235,550 1245,529 1256,519 1280,532.5 1286,525 1310,520 1316,524 1335,555 1352.5,597.5 1365,650 1375,680 1385,655 1395,610 1402.5,534.5 1415,475 1425,420 1435,365 1442.5,327.5 1448,299 1454,285.5 1460.6,279 1466,272 1472,273 1478.75,290 1484,303.5" fill="none" stroke="#5fa5a8" stroke-width="1.15" />
<polyline points="0,530 7,543 14,551 23,542 33,535 45,528 60,500 80,453 93,413 110,353 128,323 137,300 152,248 167,227 182,210 192,218 200,220 207,212 215,212 220,217 230,240 240,267 247,290 257,313 267,343 278,367 283,368 292,367 300,373 313,400 327,433 333,460 340,483 345,493 350,485 363,500 377,500 387,498 392,500 397,513 403,520 413,525 427,547 433,551 443,551 452,548 458,545 465,549 472,550 482,557 492,557 500,567 512,586 525,582 537,565 548,513 560,493 572,483 583,470 597,490 610,513 620,545 630,557 640,567.5 650,577.5 667.5,567.5 681,560 687.5,562 700,579 712.5,597.5 727.5,596 747.5,610 757.5,609.5 772.5,599 790,593 800,597.5 812.5,609.5 818,604 824,607.5 830,601 837.5,627.5 847.5,660 860,700 872.5,720.5 877.5,721 887.5,715 900,692.5 914,676 926,686 950,685 967.5,662.5 985,610 991,606 1002.5,617.5 1015,642.5 1025,705 1032.5,752.5 1047.5,825 1054,850 1065,876 1071,882 1084,885 1094,880 1107.5,856 1122.5,854 1130,855 1136,850 1150,864 1160,868 1175,860 1187.5,856 1196,857 1207.5,872.5 1222.5,879.5 1237.5,883 1244,881 1260,855 1269,841 1280,834 1287.5,850 1300,862.5 1321,874.5 1330,871 1340,872 1350,875.5 1360,872.5 1367.5,852.5 1375,841 1382.5,852.5 1387.5,867.5 1394,872.5 1400,892.5 1412,911 1424,897.5 1436,892.5 1447.5,882 1457.5,857.5 1467.5,795 1479.5,722.5 1484,690.5" fill="none" stroke="#5fa5a8" stroke-width="1.15" />
<polyline points="0,427 13,417 33,387 50,357 67,313 80,283 110,210 130,182 150,153 170,132 182,128 200,130 212,127 220,130 233,138 245,157 267,187 287,227 297,237 313,257 323,270 333,300 337,313 347,340 367,360 383,375 400,390 417,417 427,433 437,442 447,440 463,445 473,444 487,437 500,435 512,427 523,403 537,380 550,363 567,357 585,352 593,357 610,370 623,393 633,410 647,440 660,463 673,477 687,490 707,503 720,513 730,517 743,507 760,495 773,480 783,472 793,472 807,478 820,480 830,478 843,493 853,507 865,530 880,552.5 900,570 914,579 927.5,571 947.5,570 965,560 985,544 992.5,541 1002.5,545 1015,554 1025,575 1040,612.5 1060,650 1085,688 1110,712.5 1132.5,737.5 1157.5,749 1175,745 1195,740 1212.5,729 1227.5,727 1240,712.5 1250,698 1260,690 1280,683 1297.5,691 1312.5,694 1335,714 1350,732.5 1362.5,752.5 1375,761 1385,755 1397.5,730 1410,700 1435,620 1460,550 1480,507.5 1486,500" fill="none" stroke="#466460"  stroke-dasharray="4.5 3" stroke-width="1.05"/>
<path d="M223.5,216.5h2v9.2l3.3,-3.3l1.4,1.4l-5.7,5.7l-5.7,-5.7l1.4,-1.4l3.3,3.3z" fill="#8b0000"/>
<path d="M235.5,232.5h2v9.2l3.3,-3.3l1.4,1.4l-5.7,5.7l-5.7,-5.7l1.4,-1.4l3.3,3.3z" fill="#8b0000"/>
<path d="M325.5,430.5h2v9.2l3.3,-3.3l1.4,1.4l-5.7,5.7l-5.7,-5.7l1.4,-1.4l3.3,3.3z" fill="#8b0000"/>
<path d="M337.5,460.5h2v9.2l3.3,-3.3l1.4,1.4l-5.7,5.7l-5.7,-5.7l1.4,-1.4l3.3,3.3z" fill="#8b0000"/>
<path d="M421.5,520.5h2v9.2l3.3,-3.3l1.4,1.4l-5.7,5.7l-5.7,-5.7l1.4,-1.4l3.3,3.3z" fill="#8b0000"/>
<path d="M709.5,584h2v9.2l3.3,-3.3l1.4,1.4l-5.7,5.7l-5.7,-5.7l1.4,-1.4l3.3,3.3z" fill="#8b0000"/>
<path d="M835.5,609h2v9.2l3.3,-3.3l1.4,1.4l-5.7,5.7l-5.7,-5.7l1.4,-1.4l3.3,3.3z" fill="#8b0000"/>
<path d="M1021.5,673.5h2v9.2l3.3,-3.3l1.4,1.4l-5.7,5.7l-5.7,-5.7l1.4,-1.4l3.3,3.3z" fill="#8b0000"/>
<path d="M1285.5,832.5h2v9.2l3.3,-3.3l1.4,1.4l-5.7,5.7l-5.7,-5.7l1.4,-1.4l3.3,3.3z" fill="#8b0000"/>
<path d="M499.5,311h2v-9.2l3.3,3.3l1.4,-1.4l-5.7,-5.7l-5.7,5.7l1.4,1.4l3.3,-3.3z" fill="#0a8a0a"/>
<path d="M511.5,270.5h2v-9.2l3.3,3.3l1.4,-1.4l-5.7,-5.7l-5.7,5.7l1.4,1.4l3.3,-3.3z" fill="#0a8a0a"/>
<path d="M745.5,413.5h2v-9.2l3.3,3.3l1.4,-1.4l-5.7,-5.7l-5.7,5.7l1.4,1.4l3.3,-3.3z" fill="#0a8a0a"/>
<path d="M1201.5,620.5h2v-9.2l3.3,3.3l1.4,-1.4l-5.7,-5.7l-5.7,5.7l1.4,1.4l3.3,-3.3z" fill="#0a8a0a"/>
<path d="M1381.5,677.5h2v-9.2l3.3,3.3l1.4,-1.4l-5.7,-5.7l-5.7,5.7l1.4,1.4l3.3,-3.3z" fill="#0a8a0a"/>
<text x="212" y="75.3" font-family="Liberation Sans, Arial, sans-serif" font-size="20.5" text-anchor="middle" fill="#000">2</text>
<text x="199.5" y="267.3" font-family="Liberation Sans, Arial, sans-serif" font-size="20.5" text-anchor="middle" fill="#000">1</text>
<text x="379.5" y="291.8" font-family="Liberation Sans, Arial, sans-serif" font-size="20.5" text-anchor="middle" fill="#000">4</text>
<text x="344" y="552.3" font-family="Liberation Sans, Arial, sans-serif" font-size="20.5" text-anchor="middle" fill="#000">3</text>
<text x="428" y="587.3" font-family="Liberation Sans, Arial, sans-serif" font-size="20.5" text-anchor="middle" fill="#000">5</text>
<text x="428" y="611.3" font-family="Liberation Sans, Arial, sans-serif" font-size="20.5" text-anchor="middle" fill="#000">(1)</text>
<text x="446" y="418.3" font-family="Liberation Sans, Arial, sans-serif" font-size="20.5" text-anchor="middle" fill="#000">A</text>
<text x="470" y="532.3" font-family="Liberation Sans, Arial, sans-serif" font-size="20.5" text-anchor="middle" fill="#000">B</text>
<text x="518" y="181.3" font-family="Liberation Sans, Arial, sans-serif" font-size="20.5" text-anchor="middle" fill="#000">(2)</text>
<text x="517.5" y="204.3" font-family="Liberation Sans, Arial, sans-serif" font-size="20.5" text-anchor="middle" fill="#000">C</text>
<text x="776" y="331.3" font-family="Liberation Sans, Arial, sans-serif" font-size="20.5" text-anchor="middle" fill="#000">B</text>
<text x="710.5" y="697.3" font-family="Liberation Sans, Arial, sans-serif" font-size="20.5" text-anchor="middle" fill="#000">A</text>
<text x="920" y="424.3" font-family="Liberation Sans, Arial, sans-serif" font-size="20.5" text-anchor="middle" fill="#000">(4)</text>
<text x="920" y="446.8" font-family="Liberation Sans, Arial, sans-serif" font-size="20.5" text-anchor="middle" fill="#000">C</text>
<text x="890" y="511.3" font-family="Liberation Sans, Arial, sans-serif" font-size="20.5" text-anchor="middle" fill="#000">A</text>
<text x="896" y="599.8" font-family="Liberation Sans, Arial, sans-serif" font-size="20.5" text-anchor="middle" fill="#000">B</text>
<text x="859.5" y="738.3" font-family="Liberation Sans, Arial, sans-serif" font-size="20.5" text-anchor="middle" fill="#000">C</text>
<text x="859.5" y="761.8" font-family="Liberation Sans, Arial, sans-serif" font-size="20.5" text-anchor="middle" fill="#000">(3)</text>
<text x="986" y="473.3" font-family="Liberation Sans, Arial, sans-serif" font-size="20.5" text-anchor="middle" fill="#000">2</text>
<text x="949.5" y="611.3" font-family="Liberation Sans, Arial, sans-serif" font-size="20.5" text-anchor="middle" fill="#000">1</text>
<text x="1111.5" y="583.3" font-family="Liberation Sans, Arial, sans-serif" font-size="20.5" text-anchor="middle" fill="#000">4</text>
<text x="1034" y="868.3" font-family="Liberation Sans, Arial, sans-serif" font-size="20.5" text-anchor="middle" fill="#000">3</text>
<text x="1154" y="876.8" font-family="Liberation Sans, Arial, sans-serif" font-size="20.5" text-anchor="middle" fill="#000">5</text>
<text x="1154" y="901.3" font-family="Liberation Sans, Arial, sans-serif" font-size="20.5" text-anchor="middle" fill="#000">(5)</text>
<text x="1208" y="564.3" font-family="Liberation Sans, Arial, sans-serif" font-size="20.5" text-anchor="middle" fill="#000">(A)</text>
<text x="1244.5" y="566.3" font-family="Liberation Sans, Arial, sans-serif" font-size="20.5" text-anchor="middle" fill="#000">B</text>
<text x="1232" y="660.3" font-family="Liberation Sans, Arial, sans-serif" font-size="20.5" text-anchor="middle" fill="#000">A</text>
<text x="1291" y="871.3" font-family="Liberation Sans, Arial, sans-serif" font-size="20.5" text-anchor="middle" fill="#000">C</text>
<text x="1291" y="896.3" font-family="Liberation Sans, Arial, sans-serif" font-size="20.5" text-anchor="middle" fill="#000">(B)</text>
<text x="1442" y="347.8" font-family="Liberation Sans, Arial, sans-serif" font-size="20.5" text-anchor="middle" fill="#000">1</text>
<text x="1514" y="689.3" font-family="Liberation Sans, Arial, sans-serif" font-size="20.5" text-anchor="middle" fill="#000">2</text>
<text x="1755" y="345.3" font-family="Liberation Sans, Arial, sans-serif" font-size="20.5" text-anchor="middle" fill="#000">(C)</text>
<circle cx="679.5" cy="384.5" r="9.5" fill="none" stroke="#222" stroke-width="1"/>
<text x="679.5" y="389.5" font-family="Liberation Serif, Times New Roman, serif" font-size="16" font-weight="bold" text-anchor="middle" fill="#000">ii</text>
<circle cx="704.3" cy="493.5" r="9.5" fill="none" stroke="#222" stroke-width="1"/>
<text x="704.3" y="497.7" font-family="Liberation Serif, Times New Roman, serif" font-size="16" font-weight="bold" text-anchor="middle" fill="#000">iv</text>
<circle cx="655.5" cy="574.5" r="9.5" fill="none" stroke="#222" stroke-width="1"/>
<text x="655.5" y="579.5" font-family="Liberation Serif, Times New Roman, serif" font-size="16" font-weight="bold" text-anchor="middle" fill="#000">i</text>
<circle cx="691.5" cy="595" r="9.5" fill="none" stroke="#222" stroke-width="1"/>
<text x="691.5" y="600" font-family="Liberation Serif, Times New Roman, serif" font-size="16" font-weight="bold" text-anchor="middle" fill="#000">iii</text>
<circle cx="710" cy="666" r="9.5" fill="none" stroke="#222" stroke-width="1"/>
<text x="710" y="670.2" font-family="Liberation Serif, Times New Roman, serif" font-size="16" font-weight="bold" text-anchor="middle" fill="#000">v</text>
<circle cx="745.5" cy="369.5" r="9.5" fill="none" stroke="#222" stroke-width="1"/>
<text x="745.5" y="373.7" font-family="Liberation Serif, Times New Roman, serif" font-size="16" font-weight="bold" text-anchor="middle" fill="#000">a</text>
<circle cx="775.5" cy="346.5" r="9.5" fill="none" stroke="#222" stroke-width="1"/>
<text x="775.5" y="350.7" font-family="Liberation Serif, Times New Roman, serif" font-size="16" font-weight="bold" text-anchor="middle" fill="#000">c</text>
<circle cx="758" cy="488" r="9.5" fill="none" stroke="#222" stroke-width="1"/>
<text x="758" y="493" font-family="Liberation Serif, Times New Roman, serif" font-size="16" font-weight="bold" text-anchor="middle" fill="#000">b</text>
<circle cx="819" cy="502.5" r="9.5" fill="none" stroke="#222" stroke-width="1"/>
<text x="819" y="507.5" font-family="Liberation Serif, Times New Roman, serif" font-size="16" font-weight="bold" text-anchor="middle" fill="#000">ii</text>
<circle cx="800" cy="584" r="9.5" fill="none" stroke="#222" stroke-width="1"/>
<text x="800" y="589" font-family="Liberation Serif, Times New Roman, serif" font-size="16" font-weight="bold" text-anchor="middle" fill="#000">i</text>
<circle cx="854" cy="582.5" r="9.5" fill="none" stroke="#222" stroke-width="1"/>
<text x="854" y="586.7" font-family="Liberation Serif, Times New Roman, serif" font-size="16" font-weight="bold" text-anchor="middle" fill="#000">iv</text>
<circle cx="842" cy="680" r="9.5" fill="none" stroke="#222" stroke-width="1"/>
<text x="842" y="685" font-family="Liberation Serif, Times New Roman, serif" font-size="16" font-weight="bold" text-anchor="middle" fill="#000">iii</text>
<circle cx="859.5" cy="709" r="9.5" fill="none" stroke="#222" stroke-width="1"/>
<text x="859.5" y="713.2" font-family="Liberation Serif, Times New Roman, serif" font-size="16" font-weight="bold" text-anchor="middle" fill="#000">v</text>
<circle cx="961" cy="524" r="9.5" fill="none" stroke="#222" stroke-width="1"/>
<text x="961" y="528.2" font-family="Liberation Serif, Times New Roman, serif" font-size="16" font-weight="bold" text-anchor="middle" fill="#000">a</text>
<circle cx="985.5" cy="490" r="9.5" fill="none" stroke="#222" stroke-width="1"/>
<text x="985.5" y="494.2" font-family="Liberation Serif, Times New Roman, serif" font-size="16" font-weight="bold" text-anchor="middle" fill="#000">c</text>
<circle cx="967" cy="611" r="9.5" fill="none" stroke="#222" stroke-width="1"/>
<text x="967" y="616" font-family="Liberation Serif, Times New Roman, serif" font-size="16" font-weight="bold" text-anchor="middle" fill="#000">b</text>
<circle cx="1039.5" cy="748.5" r="9.5" fill="none" stroke="#222" stroke-width="1"/>
<text x="1039.5" y="752.7" font-family="Liberation Serif, Times New Roman, serif" font-size="16" font-weight="bold" text-anchor="middle" fill="#000">a</text>
<circle cx="1046" cy="860.5" r="9.5" fill="none" stroke="#222" stroke-width="1"/>
<text x="1046" y="865.5" font-family="Liberation Serif, Times New Roman, serif" font-size="16" font-weight="bold" text-anchor="middle" fill="#000">b</text>
<circle cx="1111.5" cy="601.5" r="9.5" fill="none" stroke="#222" stroke-width="1"/>
<text x="1111.5" y="605.7" font-family="Liberation Serif, Times New Roman, serif" font-size="16" font-weight="bold" text-anchor="middle" fill="#000">c</text>
<circle cx="1333.5" cy="657" r="9.5" fill="none" stroke="#222" stroke-width="1"/>
<text x="1333.5" y="661.2" font-family="Liberation Serif, Times New Roman, serif" font-size="16" font-weight="bold" text-anchor="middle" fill="#000">a</text>
<circle cx="1357.5" cy="859" r="9.5" fill="none" stroke="#222" stroke-width="1"/>
<text x="1357.5" y="864" font-family="Liberation Serif, Times New Roman, serif" font-size="16" font-weight="bold" text-anchor="middle" fill="#000">b</text>
<circle cx="1441.75" cy="364.5" r="9.5" fill="none" stroke="#222" stroke-width="1"/>
<text x="1441.75" y="368.7" font-family="Liberation Serif, Times New Roman, serif" font-size="16" font-weight="bold" text-anchor="middle" fill="#000">c</text>
<circle cx="1498" cy="393" r="9.5" fill="none" stroke="#222" stroke-width="1"/>
<text x="1498" y="398" font-family="Liberation Serif, Times New Roman, serif" font-size="16" font-weight="bold" text-anchor="middle" fill="#000">b</text>
<circle cx="1466" cy="500" r="9.5" fill="none" stroke="#222" stroke-width="1"/>
<text x="1466" y="504.2" font-family="Liberation Serif, Times New Roman, serif" font-size="16" font-weight="bold" text-anchor="middle" fill="#000">a</text>
<circle cx="170" cy="23.75" r="10.8" fill="none" stroke="#222" stroke-width="1"/>
<text x="170" y="31.05" font-family="Liberation Sans, Arial, sans-serif" font-size="20.5" text-anchor="middle" fill="#000">0</text>
<circle cx="1755" cy="313.75" r="10.8" fill="none" stroke="#222" stroke-width="1"/>
<text x="1755" y="321.05" font-family="Liberation Sans, Arial, sans-serif" font-size="20.5" text-anchor="middle" fill="#000">2</text>
<clipPath id="cb"><rect x="0" y="0" width="1867" height="916"/></clipPath>
<g clip-path="url(#cb)"><circle cx="1154" cy="919.5" r="10.6" fill="none" stroke="#222"/><text x="1154" y="926.4" font-family="Liberation Sans, Arial, sans-serif" font-size="20.5" text-anchor="middle">4</text></g>
<circle cx="677.8" cy="379.4" r="40.2" fill="rgba(255,0,0,0.10)" stroke="#ff0000" stroke-width="2.2"/>
<circle cx="761" cy="386.3" r="40.2" fill="rgba(255,0,0,0.10)" stroke="#ff0000" stroke-width="2.2"/>
<circle cx="1454.8" cy="488.3" r="40.8" fill="rgba(255,0,0,0.10)" stroke="#ff0000" stroke-width="2.2"/>
<line x1="1485.7" y1="429.5" x2="1506" y2="391" stroke="#000" stroke-width="1.2"/>
<path d="M1510,383.5 L1509.2,395.5 L1500.6,391 Z" fill="#000"/>
<g shape-rendering="crispEdges">
<rect x="1" y="381" width="1866" height="3" fill="#ff0000"/>
<rect x="1" y="505" width="1866" height="3" fill="#ff0000"/>
<rect x="1" y="581" width="1866" height="3" fill="#ff0000"/>
<rect x="1" y="848" width="1866" height="3" fill="#000"/>
</g>
<g shape-rendering="crispEdges">
<rect x="0" y="916" width="1868" height="1" fill="#aca899"/>
<rect x="1867" y="1" width="1" height="916" fill="#aca899"/>
<rect x="0" y="921" width="1874" height="1" fill="#000"/>
<rect x="1873" y="0" width="1" height="922" fill="#000"/>
<rect x="80" y="916" width="1" height="6" fill="#000"/>
<rect x="212" y="916" width="1" height="6" fill="#000"/>
<rect x="332" y="916" width="1" height="6" fill="#000"/>
<rect x="464" y="916" width="1" height="6" fill="#000"/>
<rect x="590" y="916" width="1" height="6" fill="#000"/>
<rect x="728" y="916" width="1" height="6" fill="#000"/>
<rect x="854" y="916" width="1" height="6" fill="#000"/>
<rect x="986" y="916" width="1" height="6" fill="#000"/>
<rect x="1124" y="916" width="1" height="6" fill="#000"/>
<rect x="1244" y="916" width="1" height="6" fill="#000"/>
<rect x="1382" y="916" width="1" height="6" fill="#000"/>
<rect x="1514" y="916" width="1" height="6" fill="#000"/>
<rect x="1634" y="916" width="1" height="6" fill="#000"/>
<rect x="1766" y="916" width="1" height="6" fill="#000"/>
<rect x="1870" y="5" width="3" height="1" fill="#000"/>
<rect x="1870" y="14" width="3" height="1" fill="#000"/>
<rect x="1870" y="22" width="3" height="1" fill="#000"/>
<rect x="1870" y="31" width="3" height="1" fill="#000"/>
<rect x="1867" y="40" width="6" height="1" fill="#000"/>
<rect x="1870" y="49" width="3" height="1" fill="#000"/>
<rect x="1870" y="58" width="3" height="1" fill="#000"/>
<rect x="1870" y="66" width="3" height="1" fill="#000"/>
<rect x="1870" y="75" width="3" height="1" fill="#000"/>
<rect x="1867" y="84" width="6" height="1" fill="#000"/>
<rect x="1870" y="93" width="3" height="1" fill="#000"/>
<rect x="1870" y="102" width="3" height="1" fill="#000"/>
<rect x="1870" y="111" width="3" height="1" fill="#000"/>
<rect x="1870" y="119" width="3" height="1" fill="#000"/>
<rect x="1867" y="128" width="6" height="1" fill="#000"/>
<rect x="1870" y="137" width="3" height="1" fill="#000"/>
<rect x="1870" y="146" width="3" height="1" fill="#000"/>
<rect x="1870" y="155" width="3" height="1" fill="#000"/>
<rect x="1870" y="164" width="3" height="1" fill="#000"/>
<rect x="1867" y="172" width="6" height="1" fill="#000"/>
<rect x="1870" y="181" width="3" height="1" fill="#000"/>
<rect x="1870" y="190" width="3" height="1" fill="#000"/>
<rect x="1870" y="199" width="3" height="1" fill="#000"/>
<rect x="1870" y="208" width="3" height="1" fill="#000"/>
<rect x="1867" y="217" width="6" height="1" fill="#000"/>
<rect x="1870" y="225" width="3" height="1" fill="#000"/>
<rect x="1870" y="234" width="3" height="1" fill="#000"/>
<rect x="1870" y="243" width="3" height="1" fill="#000"/>
<rect x="1870" y="252" width="3" height="1" fill="#000"/>
<rect x="1867" y="261" width="6" height="1" fill="#000"/>
<rect x="1870" y="270" width="3" height="1" fill="#000"/>
<rect x="1870" y="278" width="3" height="1" fill="#000"/>
<rect x="1870" y="287" width="3" height="1" fill="#000"/>
<rect x="1870" y="296" width="3" height="1" fill="#000"/>
<rect x="1867" y="305" width="6" height="1" fill="#000"/>
<rect x="1870" y="314" width="3" height="1" fill="#000"/>
<rect x="1870" y="323" width="3" height="1" fill="#000"/>
<rect x="1870" y="331" width="3" height="1" fill="#000"/>
<rect x="1870" y="340" width="3" height="1" fill="#000"/>
<rect x="1867" y="349" width="6" height="1" fill="#000"/>
<rect x="1870" y="358" width="3" height="1" fill="#000"/>
<rect x="1870" y="367" width="3" height="1" fill="#000"/>
<rect x="1870" y="376" width="3" height="1" fill="#000"/>
<rect x="1870" y="384" width="3" height="1" fill="#000"/>
<rect x="1867" y="393" width="6" height="1" fill="#000"/>
<rect x="1870" y="402" width="3" height="1" fill="#000"/>
<rect x="1870" y="411" width="3" height="1" fill="#000"/>
<rect x="1870" y="420" width="3" height="1" fill="#000"/>
<rect x="1870" y="429" width="3" height="1" fill="#000"/>
<rect x="1867" y="437" width="6" height="1" fill="#000"/>
<rect x="1870" y="446" width="3" height="1" fill="#000"/>
<rect x="1870" y="455" width="3" height="1" fill="#000"/>
<rect x="1870" y="464" width="3" height="1" fill="#000"/>
<rect x="1870" y="473" width="3" height="1" fill="#000"/>
<rect x="1867" y="482" width="6" height="1" fill="#000"/>
<rect x="1870" y="490" width="3" height="1" fill="#000"/>
<rect x="1870" y="499" width="3" height="1" fill="#000"/>
<rect x="1870" y="508" width="3" height="1" fill="#000"/>
<rect x="1870" y="517" width="3" height="1" fill="#000"/>
<rect x="1867" y="526" width="6" height="1" fill="#000"/>
<rect x="1870" y="535" width="3" height="1" fill="#000"/>
<rect x="1870" y="543" width="3" height="1" fill="#000"/>
<rect x="1870" y="552" width="3" height="1" fill="#000"/>
<rect x="1870" y="561" width="3" height="1" fill="#000"/>
<rect x="1867" y="570" width="6" height="1" fill="#000"/>
<rect x="1870" y="579" width="3" height="1" fill="#000"/>
<rect x="1870" y="588" width="3" height="1" fill="#000"/>
<rect x="1870" y="596" width="3" height="1" fill="#000"/>
<rect x="1870" y="605" width="3" height="1" fill="#000"/>
<rect x="1867" y="614" width="6" height="1" fill="#000"/>
<rect x="1870" y="623" width="3" height="1" fill="#000"/>
<rect x="1870" y="632" width="3" height="1" fill="#000"/>
<rect x="1870" y="641" width="3" height="1" fill="#000"/>
<rect x="1870" y="649" width="3" height="1" fill="#000"/>
<rect x="1867" y="658" width="6" height="1" fill="#000"/>
<rect x="1870" y="667" width="3" height="1" fill="#000"/>
<rect x="1870" y="676" width="3" height="1" fill="#000"/>
<rect x="1870" y="685" width="3" height="1" fill="#000"/>
<rect x="1870" y="694" width="3" height="1" fill="#000"/>
<rect x="1867" y="702" width="6" height="1" fill="#000"/>
<rect x="1870" y="711" width="3" height="1" fill="#000"/>
<rect x="1870" y="720" width="3" height="1" fill="#000"/>
<rect x="1870" y="729" width="3" height="1" fill="#000"/>
<rect x="1870" y="738" width="3" height="1" fill="#000"/>
<rect x="1867" y="747" width="6" height="1" fill="#000"/>
<rect x="1870" y="755" width="3" height="1" fill="#000"/>
<rect x="1870" y="764" width="3" height="1" fill="#000"/>
<rect x="1870" y="773" width="3" height="1" fill="#000"/>
<rect x="1870" y="782" width="3" height="1" fill="#000"/>
<rect x="1867" y="791" width="6" height="1" fill="#000"/>
<rect x="1870" y="800" width="3" height="1" fill="#000"/>
<rect x="1870" y="808" width="3" height="1" fill="#000"/>
<rect x="1870" y="817" width="3" height="1" fill="#000"/>
<rect x="1870" y="826" width="3" height="1" fill="#000"/>
<rect x="1867" y="835" width="6" height="1" fill="#000"/>
<rect x="1870" y="844" width="3" height="1" fill="#000"/>
<rect x="1870" y="853" width="3" height="1" fill="#000"/>
<rect x="1870" y="861" width="3" height="1" fill="#000"/>
<rect x="1870" y="870" width="3" height="1" fill="#000"/>
<rect x="1867" y="879" width="6" height="1" fill="#000"/>
<rect x="1870" y="888" width="3" height="1" fill="#000"/>
<rect x="1870" y="897" width="3" height="1" fill="#000"/>
<rect x="1870" y="906" width="3" height="1" fill="#000"/>
<rect x="0" y="0" width="1918" height="1" fill="#000"/><rect x="0" y="937" width="1918" height="1" fill="#000"/>
<rect x="0" y="0" width="1" height="938" fill="#000"/><rect x="1917" y="0" width="1" height="938" fill="#000"/>
</g>
<text x="1876.5" y="44.8" font-family="Liberation Sans, Arial, sans-serif" font-size="12" letter-spacing="0.15" fill="#111">81.500</text>
<text x="1876.5" y="89.0" font-family="Liberation Sans, Arial, sans-serif" font-size="12" letter-spacing="0.15" fill="#111">81.000</text>
<text x="1876.5" y="133.1" font-family="Liberation Sans, Arial, sans-serif" font-size="12" letter-spacing="0.15" fill="#111">80.500</text>
<text x="1876.5" y="177.3" font-family="Liberation Sans, Arial, sans-serif" font-size="12" letter-spacing="0.15" fill="#111">80.000</text>
<text x="1876.5" y="221.5" font-family="Liberation Sans, Arial, sans-serif" font-size="12" letter-spacing="0.15" fill="#111">79.500</text>
<text x="1876.5" y="265.6" font-family="Liberation Sans, Arial, sans-serif" font-size="12" letter-spacing="0.15" fill="#111">79.000</text>
<text x="1876.5" y="309.8" font-family="Liberation Sans, Arial, sans-serif" font-size="12" letter-spacing="0.15" fill="#111">78.500</text>
<text x="1876.5" y="354.0" font-family="Liberation Sans, Arial, sans-serif" font-size="12" letter-spacing="0.15" fill="#111">78.000</text>
<text x="1876.5" y="398.1" font-family="Liberation Sans, Arial, sans-serif" font-size="12" letter-spacing="0.15" fill="#111">77.500</text>
<text x="1876.5" y="442.3" font-family="Liberation Sans, Arial, sans-serif" font-size="12" letter-spacing="0.15" fill="#111">77.000</text>
<text x="1876.5" y="486.4" font-family="Liberation Sans, Arial, sans-serif" font-size="12" letter-spacing="0.15" fill="#111">76.500</text>
<text x="1876.5" y="530.6" font-family="Liberation Sans, Arial, sans-serif" font-size="12" letter-spacing="0.15" fill="#111">76.000</text>
<text x="1876.5" y="574.8" font-family="Liberation Sans, Arial, sans-serif" font-size="12" letter-spacing="0.15" fill="#111">75.500</text>
<text x="1876.5" y="618.9" font-family="Liberation Sans, Arial, sans-serif" font-size="12" letter-spacing="0.15" fill="#111">75.000</text>
<text x="1876.5" y="663.1" font-family="Liberation Sans, Arial, sans-serif" font-size="12" letter-spacing="0.15" fill="#111">74.500</text>
<text x="1876.5" y="707.3" font-family="Liberation Sans, Arial, sans-serif" font-size="12" letter-spacing="0.15" fill="#111">74.000</text>
<text x="1876.5" y="751.4" font-family="Liberation Sans, Arial, sans-serif" font-size="12" letter-spacing="0.15" fill="#111">73.500</text>
<text x="1876.5" y="795.6" font-family="Liberation Sans, Arial, sans-serif" font-size="12" letter-spacing="0.15" fill="#111">73.000</text>
<text x="1876.5" y="839.8" font-family="Liberation Sans, Arial, sans-serif" font-size="12" letter-spacing="0.15" fill="#111">72.500</text>
<text x="1876.5" y="883.9" font-family="Liberation Sans, Arial, sans-serif" font-size="12" letter-spacing="0.15" fill="#111">72.000</text>
<path d="M1867.5,433.5 L1874.5,426 H1916.5 V440.5 H1874.5 Z" fill="#fff" stroke="#333" stroke-width="1"/>
<rect x="1874" y="425" width="43" height="2" fill="#333"/>
<text x="1877" y="437.8" font-family="Liberation Sans, Arial, sans-serif" font-size="12" fill="#111">77.055</text>
<text x="80.5" y="933.5" font-family="Liberation Sans, Arial, sans-serif" font-size="12" letter-spacing="0.2" text-anchor="middle" fill="#111">Jan-2018</text>
<text x="212.5" y="933.5" font-family="Liberation Sans, Arial, sans-serif" font-size="12" letter-spacing="0.2" text-anchor="middle" fill="#111">Feb-2018</text>
<text x="332.5" y="933.5" font-family="Liberation Sans, Arial, sans-serif" font-size="12" letter-spacing="0.2" text-anchor="middle" fill="#111">Mar-2018</text>
<text x="464.5" y="933.5" font-family="Liberation Sans, Arial, sans-serif" font-size="12" letter-spacing="0.2" text-anchor="middle" fill="#111">Apr-2018</text>
<text x="590.5" y="933.5" font-family="Liberation Sans, Arial, sans-serif" font-size="12" letter-spacing="0.2" text-anchor="middle" fill="#111">May-2018</text>
<text x="728.5" y="933.5" font-family="Liberation Sans, Arial, sans-serif" font-size="12" letter-spacing="0.2" text-anchor="middle" fill="#111">Jun-2018</text>
<text x="854.5" y="933.5" font-family="Liberation Sans, Arial, sans-serif" font-size="12" letter-spacing="0.2" text-anchor="middle" fill="#111">Jul-2018</text>
<text x="986.5" y="933.5" font-family="Liberation Sans, Arial, sans-serif" font-size="12" letter-spacing="0.2" text-anchor="middle" fill="#111">Aug-2018</text>
<text x="1124.5" y="933.5" font-family="Liberation Sans, Arial, sans-serif" font-size="12" letter-spacing="0.2" text-anchor="middle" fill="#111">Sep-2018</text>
<text x="1244.5" y="933.5" font-family="Liberation Sans, Arial, sans-serif" font-size="12" letter-spacing="0.2" text-anchor="middle" fill="#111">Oct-2018</text>
<text x="1382.5" y="933.5" font-family="Liberation Sans, Arial, sans-serif" font-size="12" letter-spacing="0.2" text-anchor="middle" fill="#111">Nov-2018</text>
<text x="1514.5" y="933.5" font-family="Liberation Sans, Arial, sans-serif" font-size="12" letter-spacing="0.2" text-anchor="middle" fill="#111">Dec-2018</text>
<text x="1634.5" y="933.5" font-family="Liberation Sans, Arial, sans-serif" font-size="12" letter-spacing="0.2" text-anchor="middle" fill="#111">Jan-2019</text>
<text x="1766.5" y="933.5" font-family="Liberation Sans, Arial, sans-serif" font-size="12" letter-spacing="0.2" text-anchor="middle" fill="#111">Feb-2019</text>
<text x="7.5" y="17" font-family="Liberation Sans, Arial, sans-serif" font-size="13" font-weight="bold" fill="#111">NZDJPY - 1 day</text>
<text x="9.5" y="33.8" font-family="Liberation Sans, Arial, sans-serif" font-size="11" fill="#5f9ea0">BB(20,20,2.0,2.0)</text>
</svg></body></html>
